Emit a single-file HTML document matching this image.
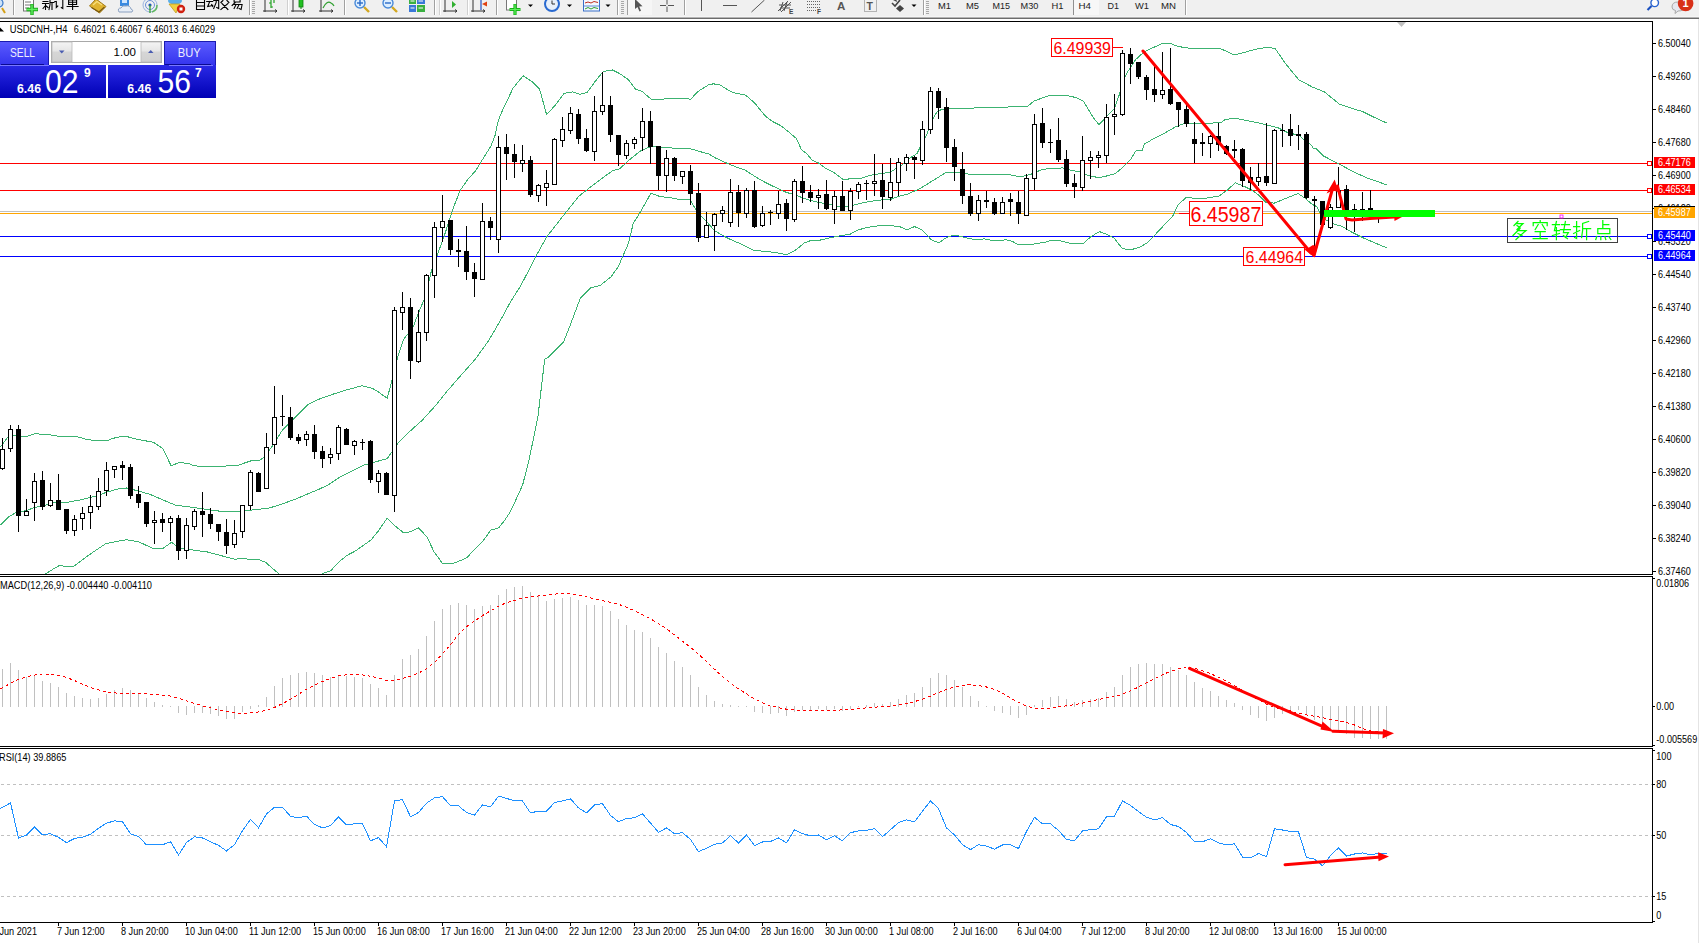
<!DOCTYPE html>
<html><head><meta charset="utf-8"><style>
html,body{margin:0;padding:0;background:#fff;}
body{width:1699px;height:943px;overflow:hidden;position:relative;font-family:"Liberation Sans",sans-serif;}
</style></head><body>
<svg width="1699" height="943" viewBox="0 0 1699 943" style="position:absolute;left:0;top:0">
<rect x="0" y="0" width="1699" height="17" fill="#f0f0f0"/>
<rect x="0" y="16" width="1699" height="1" fill="#f5f5f5"/>
<rect x="0" y="17" width="1699" height="1" fill="#b4b4b4"/>
<rect x="0" y="18" width="1699" height="1" fill="#6c6c6c"/>
<rect x="0" y="19" width="1699" height="2" fill="#ffffff"/>
<rect x="0" y="21" width="1653" height="1" fill="#000"/>
<rect x="1698" y="19" width="1" height="924" fill="#e4e4e4"/>
<polygon points="1397,22 1406,22 1401.5,27" fill="#c0c0c0"/>
<g shape-rendering="crispEdges">
<rect x="13" y="0" width="1" height="15" fill="#a0a0a0"/>
<rect x="14" y="0" width="1" height="15" fill="#ffffff"/>
<rect x="249" y="0" width="1" height="15" fill="#a0a0a0"/>
<rect x="250" y="0" width="1" height="15" fill="#ffffff"/>
<rect x="252" y="1" width="3" height="1" fill="#a8a8a8"/>
<rect x="252" y="3" width="3" height="1" fill="#a8a8a8"/>
<rect x="252" y="5" width="3" height="1" fill="#a8a8a8"/>
<rect x="252" y="7" width="3" height="1" fill="#a8a8a8"/>
<rect x="252" y="9" width="3" height="1" fill="#a8a8a8"/>
<rect x="252" y="11" width="3" height="1" fill="#a8a8a8"/>
<rect x="252" y="13" width="3" height="1" fill="#a8a8a8"/>
<rect x="287" y="0" width="1" height="15" fill="#d0d0d0"/>
<rect x="288" y="0" width="1" height="15" fill="#ffffff"/>
<rect x="344" y="0" width="1" height="15" fill="#a0a0a0"/>
<rect x="345" y="0" width="1" height="15" fill="#ffffff"/>
<rect x="434" y="0" width="1" height="15" fill="#a0a0a0"/>
<rect x="435" y="0" width="1" height="15" fill="#ffffff"/>
<rect x="439" y="0" width="1" height="15" fill="#d0d0d0"/>
<rect x="440" y="0" width="1" height="15" fill="#ffffff"/>
<rect x="467" y="0" width="1" height="15" fill="#d0d0d0"/>
<rect x="468" y="0" width="1" height="15" fill="#ffffff"/>
<rect x="496" y="0" width="1" height="15" fill="#a0a0a0"/>
<rect x="497" y="0" width="1" height="15" fill="#ffffff"/>
<rect x="617" y="0" width="1" height="15" fill="#a0a0a0"/>
<rect x="618" y="0" width="1" height="15" fill="#ffffff"/>
<rect x="621" y="1" width="3" height="1" fill="#a8a8a8"/>
<rect x="621" y="3" width="3" height="1" fill="#a8a8a8"/>
<rect x="621" y="5" width="3" height="1" fill="#a8a8a8"/>
<rect x="621" y="7" width="3" height="1" fill="#a8a8a8"/>
<rect x="621" y="9" width="3" height="1" fill="#a8a8a8"/>
<rect x="621" y="11" width="3" height="1" fill="#a8a8a8"/>
<rect x="621" y="13" width="3" height="1" fill="#a8a8a8"/>
<rect x="627" y="0" width="1" height="15" fill="#a0a0a0"/>
<rect x="628" y="0" width="1" height="15" fill="#ffffff"/>
<rect x="684" y="0" width="1" height="15" fill="#a0a0a0"/>
<rect x="685" y="0" width="1" height="15" fill="#ffffff"/>
<rect x="923" y="0" width="1" height="15" fill="#a0a0a0"/>
<rect x="924" y="0" width="1" height="15" fill="#ffffff"/>
<rect x="926" y="1" width="3" height="1" fill="#a8a8a8"/>
<rect x="926" y="3" width="3" height="1" fill="#a8a8a8"/>
<rect x="926" y="5" width="3" height="1" fill="#a8a8a8"/>
<rect x="926" y="7" width="3" height="1" fill="#a8a8a8"/>
<rect x="926" y="9" width="3" height="1" fill="#a8a8a8"/>
<rect x="926" y="11" width="3" height="1" fill="#a8a8a8"/>
<rect x="926" y="13" width="3" height="1" fill="#a8a8a8"/>
<rect x="1185" y="0" width="1" height="15" fill="#a0a0a0"/>
<rect x="1186" y="0" width="1" height="15" fill="#ffffff"/>
</g>
<circle cx="-1" cy="3" r="4" fill="#cfe3f7" stroke="#3a78c8" stroke-width="1.2"/>
<line x1="2" y1="8" x2="5" y2="13" stroke="#d4a017" stroke-width="2"/>
<rect x="23.5" y="-2" width="10" height="13" fill="#fff" stroke="#777" stroke-width="1"/>
<path d="M25,2 H31 M25,5 H31 M25,8 H29" stroke="#777" stroke-width="1"/>
<path d="M32,4 V15 M26.5,9.5 H38" stroke="#18a818" stroke-width="3.4"/>
<path d="M32,4.5 V14.5 M27,9.5 H37.5" stroke="#60f060" stroke-width="1.4"/>
<path transform="translate(42.0,-2.5) scale(1.0)" d="M1,2 L6,2 M3.5,0 L3.5,2 M1,4 L6,4 M0.5,6 L6.5,6 M3.5,6 L3.5,12 M3.5,8 L1,11 M3.5,8 L6,10 M11.5,0 L8,1.5 L8,7 L7,12 M8,5 L12,5 M10,5 L10,12" fill="none" stroke="#000" stroke-width="1.1" stroke-linecap="square"/>
<path transform="translate(54.3,-2.5) scale(1.0)" d="M1,1 L2,2 M0.5,4 L2,4 L2,10 L3.5,8.5 M5,2 L12,2 M8.5,2 L8.5,11 L7,10" fill="none" stroke="#000" stroke-width="1.1" stroke-linecap="square"/>
<path transform="translate(66.6,-2.5) scale(1.0)" d="M3,0 L4,1.5 M9,0 L8,1.5 M2,2.5 L10,2.5 L10,7 L2,7 Z M2,4.8 L10,4.8 M6,2.5 L6,12 M0.5,9 L11.5,9" fill="none" stroke="#000" stroke-width="1.1" stroke-linecap="square"/>
<path d="M89.5,6 L96,-1 L106,6.5 L99.5,13 Z" fill="#e0b430" stroke="#a07818" stroke-width="1"/>
<path d="M91.5,7.5 L99,12 L104.5,7" fill="none" stroke="#7a5a10" stroke-width="1.2"/>
<path d="M93,5 L97,1.5 L102,5" fill="none" stroke="#f8e080" stroke-width="1.2"/>
<rect x="120" y="-2" width="9" height="8" fill="#3a8ae0"/>
<rect x="122" y="0" width="5" height="3" fill="#cfe6ff"/>
<path d="M119,12 Q117,8 121,8 Q122,5 126,6 Q130,5 131,9 Q134,10 132,12 Z" fill="#e8eef6" stroke="#8aa0c0" stroke-width="1"/>
<circle cx="150" cy="5" r="7" fill="none" stroke="#9ab4e0" stroke-width="1"/>
<circle cx="150" cy="5" r="4.5" fill="none" stroke="#6a90d8" stroke-width="1"/>
<circle cx="150" cy="5" r="1.6" fill="#2050c0"/>
<path d="M150,5 V13" stroke="#30a030" stroke-width="1.3"/>
<path d="M152,12 A7,7 0 0 0 157,5" fill="none" stroke="#60b860" stroke-width="1.5"/>
<ellipse cx="175" cy="1" rx="7" ry="3.5" fill="#5aaee8"/>
<path d="M169,4 L180,4 L176,13 Z" fill="#f0d040" stroke="#c0a020" stroke-width="0.8"/>
<circle cx="181" cy="9" r="4.2" fill="#d02010"/>
<rect x="179.5" y="7.5" width="3" height="3" fill="#fff"/>
<path transform="translate(194.5,-2.5) scale(1.0)" d="M6,-1 L5,1 M2,1.5 L10,1.5 L10,12 L2,12 Z M2,5 L10,5 M2,8.5 L10,8.5" fill="none" stroke="#000" stroke-width="1.1" stroke-linecap="square"/>
<path transform="translate(206.7,-2.5) scale(1.0)" d="M1,1.5 L5,1.5 M0,4 L6,4 M3,4 L1,9 L6,8 M5,7 L6,9 M7,3 L12,3 L12,11 L10,10 M9.5,0 L9.5,5 L7,11" fill="none" stroke="#000" stroke-width="1.1" stroke-linecap="square"/>
<path transform="translate(218.9,-2.5) scale(1.0)" d="M6,-1 L6,1.5 M1,2 L11,2 M4,3 L2,5 M8,3 L10,5 M3,6 L9,12 M9,6 L2,12" fill="none" stroke="#000" stroke-width="1.1" stroke-linecap="square"/>
<path transform="translate(231.1,-2.5) scale(1.0)" d="M3,-1 L9,-1 L9,4.5 L3,4.5 Z M3,2 L9,2 M4,5 L1,8 M2,7 L11,7 L10,12 L8,11 M5,7 L3,11 M8,7 L6,11" fill="none" stroke="#000" stroke-width="1.1" stroke-linecap="square"/>
<path d="M265,0 V12 M263,11 H277" stroke="#333" stroke-width="1" fill="none"/>
<path d="M275,9.5 L277,11 L275,12.5" stroke="#333" stroke-width="1" fill="none"/>
<path d="M271,0 V8 M269,3 H271 M271,7 H273 M274,-1 V3" stroke="#20a020" stroke-width="1.2" fill="none"/>
<path d="M293,0 V12 M291,11 H305" stroke="#333" stroke-width="1" fill="none"/>
<path d="M303,9.5 L305,11 L303,12.5" stroke="#333" stroke-width="1" fill="none"/>
<rect x="299" y="-1" width="4" height="8" fill="#22c022" stroke="#108010" stroke-width="0.8"/><path d="M301,7 V9" stroke="#108010"/>
<path d="M321,0 V12 M319,11 H333" stroke="#333" stroke-width="1" fill="none"/>
<path d="M331,9.5 L333,11 L331,12.5" stroke="#333" stroke-width="1" fill="none"/>
<path d="M323,8 Q327,0 331,3 Q333,4 334,6" stroke="#30a030" stroke-width="1.2" fill="none"/>
<line x1="364" y1="7" x2="369" y2="12" stroke="#d4a820" stroke-width="2.4"/>
<circle cx="360" cy="3" r="5" fill="#dceeff" stroke="#4a8ad8" stroke-width="1.4"/>
<path d="M357,3 H363" stroke="#2a6ac8" stroke-width="1.4"/>
<path d="M360,0 V6" stroke="#2a6ac8" stroke-width="1.4"/>
<line x1="392" y1="7" x2="397" y2="12" stroke="#d4a820" stroke-width="2.4"/>
<circle cx="388" cy="3" r="5" fill="#dceeff" stroke="#4a8ad8" stroke-width="1.4"/>
<path d="M385,3 H391" stroke="#2a6ac8" stroke-width="1.4"/>
<rect x="409" y="-2" width="7" height="6" fill="#3ab040"/><rect x="417" y="-2" width="8" height="6" fill="#3a78d8"/>
<rect x="409" y="5" width="7" height="7" fill="#3a78d8"/><rect x="417" y="5" width="8" height="7" fill="#3ab040"/>
<path d="M410.5,8 H414.5 M418.5,8 H423 M410.5,1 H414.5 M418.5,1 H423" stroke="#fff" stroke-width="1"/>
<path d="M445,0 V12 M443,11 H457" stroke="#333" stroke-width="1" fill="none"/>
<path d="M455,9.5 L457,11 L455,12.5" stroke="#333" stroke-width="1" fill="none"/>
<polygon points="452,1 452,8 456,4.5" fill="#30b030"/>
<path d="M473,0 V12 M471,11 H485" stroke="#333" stroke-width="1" fill="none"/>
<path d="M483,9.5 L485,11 L483,12.5" stroke="#333" stroke-width="1" fill="none"/>
<path d="M481,0 V10" stroke="#2050c0" stroke-width="1.2"/><polygon points="482,4 487,1.5 487,6.5" fill="#e04010"/>
<rect x="506.5" y="-2" width="10" height="12" fill="#fff" stroke="#777" stroke-width="1"/>
<path d="M515,4 V15 M509.5,9.5 H520.5" stroke="#18b418" stroke-width="3.2"/>
<path d="M515,4.5 V14.5 M510,9.5 H520" stroke="#5cf05c" stroke-width="1.2"/>
<polygon points="528.0,4.5 533.0,4.5 530.5,7" fill="#000"/>
<circle cx="552" cy="4" r="7" fill="#e8f0fa" stroke="#2a6ad0" stroke-width="2"/>
<path d="M552,4 V0.5 M552,4 H555" stroke="#333" stroke-width="1"/>
<polygon points="567.0,4.5 572.0,4.5 569.5,7" fill="#000"/>
<rect x="583.5" y="-1" width="16" height="12" fill="#f4f8ff" stroke="#3a70c8" stroke-width="1"/>
<path d="M585,3 L588,2 L591,3 L594,1.5 L598,2.5" stroke="#c03020" stroke-width="1" fill="none"/>
<path d="M584,6 H599" stroke="#3a70c8" stroke-width="0.8"/>
<path d="M585,9 L588,7.5 L591,9 L594,7.5 L598,8.5" stroke="#30a030" stroke-width="1" fill="none"/>
<polygon points="605.5,4.5 610.5,4.5 608,7" fill="#000"/>
<rect x="628" y="0" width="24" height="15" fill="#f6f6f6"/>
<path d="M635,-1 L635,9 L637.5,7 L639.5,11.5 L641,10.8 L639.2,6.5 L642.5,6.2 Z" fill="#555"/>
<path d="M660,5.5 H674 M667,-1 V12" stroke="#555" stroke-width="1"/>
<rect x="666" y="4.5" width="2" height="2" fill="#f0f0f0"/>
<path d="M701.5,0 V11" stroke="#555" stroke-width="1"/>
<path d="M723,5.5 H737" stroke="#555" stroke-width="1"/>
<path d="M751.5,12 L764.5,0" stroke="#555" stroke-width="1"/>
<path d="M778,11 L788,1 M781,12 L791,2 M779,5 H791 M780,8 H790 M783,2 L780,11 M787,2 L784,11" stroke="#555" stroke-width="1" fill="none"/>
<text x="789" y="14" font-family="Liberation Sans, sans-serif" font-size="6.5" font-weight="bold" fill="#444">E</text>
<path d="M807,1.5 H820 M807,4.5 H820 M807,7.5 H820 M807,10.5 H816" stroke="#666" stroke-width="1" stroke-dasharray="1,1"/>
<text x="817" y="14" font-family="Liberation Sans, sans-serif" font-size="6.5" font-weight="bold" fill="#444">F</text>
<text x="837" y="9.5" font-family="Liberation Sans, sans-serif" font-size="11.5" font-weight="bold" fill="#555">A</text>
<rect x="864.5" y="-0.5" width="12" height="12" fill="none" stroke="#777" stroke-width="1" stroke-dasharray="1,1"/>
<text x="866.5" y="9.5" font-family="Liberation Sans, sans-serif" font-size="10.5" font-weight="bold" fill="#555">T</text>
<path d="M892,3 L895,6 L900,0" stroke="#444" stroke-width="1.6" fill="none"/>
<polygon points="900,5 904,8.5 900,12 896,8.5" fill="#444"/>
<polygon points="893,0 896,-2 897,2" fill="#444"/>
<polygon points="911.5,4.5 916.5,4.5 914,7" fill="#000"/>
<rect x="1073" y="0" width="1" height="15" fill="#909090"/>
<rect x="1074" y="0" width="25" height="15" fill="#f7f7f7"/>
<g font-family="Liberation Sans, sans-serif" font-size="9.4" fill="#222">
<text x="938" y="9.2" textLength="13" lengthAdjust="spacingAndGlyphs">M1</text>
<text x="966" y="9.2" textLength="13" lengthAdjust="spacingAndGlyphs">M5</text>
<text x="992.5" y="9.2" textLength="17.5" lengthAdjust="spacingAndGlyphs">M15</text>
<text x="1020.6" y="9.2" textLength="17.8" lengthAdjust="spacingAndGlyphs">M30</text>
<text x="1051.4" y="9.2" textLength="12" lengthAdjust="spacingAndGlyphs">H1</text>
<text x="1078.5" y="9.2" textLength="12.5" lengthAdjust="spacingAndGlyphs">H4</text>
<text x="1107.5" y="9.2" textLength="11.5" lengthAdjust="spacingAndGlyphs">D1</text>
<text x="1135" y="9.2" textLength="14" lengthAdjust="spacingAndGlyphs">W1</text>
<text x="1161" y="9.2" textLength="15" lengthAdjust="spacingAndGlyphs">MN</text>
</g>
<circle cx="1654.7" cy="2.8" r="3.8" fill="#fff" stroke="#2a64d0" stroke-width="1.4"/>
<line x1="1651.5" y1="6" x2="1647.5" y2="10" stroke="#1a50c0" stroke-width="2.2"/>
<path d="M1672,7 Q1672,2 1678,2 Q1684,2 1684,7 Q1684,11 1678,11 L1675,13.5 L1675.5,10.5 Q1672,10 1672,7 Z" fill="#e6e8f0" stroke="#a8a8a8" stroke-width="1"/>
<circle cx="1685.6" cy="3.5" r="7.8" fill="#d83018"/>
<text x="1682.6" y="7" font-family="Liberation Sans, sans-serif" font-size="11" font-weight="bold" fill="#fff">1</text>
<defs><clipPath id="cm"><rect x="0" y="22" width="1652" height="552"/></clipPath><clipPath id="cmacd"><rect x="0" y="577" width="1652" height="169"/></clipPath><clipPath id="crsi"><rect x="0" y="749" width="1652" height="173"/></clipPath></defs>
<g shape-rendering="crispEdges" fill="#000">
<rect x="0" y="574" width="1653" height="1"/>
<rect x="0" y="576" width="1653" height="1"/>
<rect x="0" y="746" width="1653" height="1"/>
<rect x="0" y="748" width="1653" height="1"/>
<rect x="0" y="922" width="1653" height="1"/>
<rect x="1652" y="21" width="1" height="554"/>
<rect x="1652" y="576" width="1" height="171"/>
<rect x="1652" y="748" width="1" height="175"/>
</g>
<g clip-path="url(#cm)">
<g shape-rendering="crispEdges">
<rect x="0" y="163" width="1652" height="1" fill="#ff0000"/>
<rect x="0" y="190" width="1652" height="1" fill="#ff0000"/>
<rect x="0" y="211" width="1652" height="1" fill="#c0c0c0"/>
<rect x="0" y="213" width="1652" height="1" fill="#ffa500"/>
<rect x="0" y="236" width="1652" height="1" fill="#0000ff"/>
<rect x="0" y="256" width="1652" height="1" fill="#0000ff"/>
</g>
<polyline points="0.5,447.0 8.1,436.8 14.1,435.1 20.9,436.8 27.7,436.0 34.5,433.8 46.3,434.3 56.5,436.0 75.2,436.3 85.4,439.0 97.2,441.0 107.4,440.7 112.5,438.5 122.7,436.0 126.5,436.5 137.3,439.3 153.5,442.3 162.5,448.3 171.2,465.8 178.8,462.7 187.8,463.2 194.1,465.8 207.5,466.9 222.1,466.3 238.3,465.1 250.9,460.9 259.1,460.7 264.5,457.0 273.5,444.4 282.5,430.0 295.2,417.4 307.8,404.8 318.6,399.3 331.2,394.8 342.1,391.2 352.9,388.2 361.9,385.8 372.7,388.5 377.1,391.1 387.2,398.3 393.0,376.5 398.3,355.3 403.6,339.4 412.9,327.5 419.5,310.3 424.8,298.3 431.5,270.5 444.2,236.1 452.7,209.6 460.1,190.5 467.5,179.9 476.0,170.3 482.4,159.7 490.9,146.0 495.1,135.3 498.3,120.5 502.5,110.3 513.1,88.1 523.1,75.8 532.2,81.7 539.6,89.1 546.6,114.6 554.5,106.1 564.0,93.4 572.5,91.9 579.9,94.4 587.3,92.3 595.8,80.6 603.2,71.5 612.5,70.0 619.7,73.6 628.2,79.6 635.6,89.1 642.0,91.3 651.1,99.1 662.1,99.1 679.1,98.3 690.8,99.1 698.2,91.3 708.5,84.9 713.4,83.8 720.2,85.1 727.8,89.8 731.2,91.9 738.0,93.7 745.6,95.1 749.9,98.7 755.8,104.2 760.7,110.5 765.8,116.4 772.5,121.5 781.0,125.8 789.5,132.6 796.3,138.5 801.4,149.5 804.5,152.1 807.0,154.0 812.1,160.0 818.5,163.0 826.1,168.7 833.8,172.5 838.9,176.3 843.9,179.9 849.0,178.9 859.2,178.9 866.9,176.3 874.5,174.4 882.1,173.5 891.0,171.9 897.4,167.4 900.5,166.8 908.6,158.7 917.0,153.6 922.1,143.5 927.2,133.3 932.3,119.7 937.4,111.2 942.5,109.2 951.0,108.7 966.2,108.2 996.5,107.5 1020.5,106.5 1027.3,106.5 1034.1,101.0 1040.9,98.5 1051.0,95.1 1061.2,95.1 1071.4,96.3 1078.2,98.5 1083.3,101.0 1088.4,109.5 1093.5,118.0 1098.9,124.5 1105.3,118.0 1110.5,112.7 1113.8,109.5 1115.6,105.1 1118.9,95.9 1120.7,89.8 1124.0,79.0 1127.4,72.2 1135.9,59.3 1144.4,51.6 1152.9,47.7 1162.2,43.6 1170.7,43.6 1178.4,46.5 1191.9,48.7 1220.5,48.7 1234.6,55.0 1247.6,51.5 1258.2,48.7 1264.1,47.9 1271.1,47.9 1275.3,48.7 1282.9,59.9 1290.0,69.3 1298.8,79.7 1312.3,87.0 1324.1,91.7 1339.4,104.1 1347.6,107.0 1362.9,111.7 1373.5,117.0 1386.5,122.9" fill="none" stroke="#3cb371" stroke-width="1" shape-rendering="crispEdges"/>
<polyline points="0.5,525.1 9.0,516.6 16.6,512.3 26.0,510.6 34.5,507.6 44.6,505.5 56.5,502.1 68.4,502.1 82.0,499.6 95.5,496.2 107.4,492.0 119.3,488.6 126.5,488.0 137.3,490.7 149.9,494.3 162.5,499.7 175.2,505.1 189.5,506.9 202.2,508.7 216.5,510.9 234.7,511.9 249.1,510.5 257.3,509.3 268.1,508.4 282.5,503.9 297.0,498.5 309.6,493.1 318.6,489.5 329.5,484.1 340.3,476.9 351.1,471.5 363.7,465.2 372.7,462.5 377.1,461.4 387.2,458.7 398.3,442.8 408.9,432.2 422.2,420.3 435.4,405.7 446.0,392.5 456.4,380.5 475.2,359.3 488.7,340.6 500.4,320.5 509.9,302.9 519.3,288.0 524.5,278.5 536.2,255.8 544.7,240.5 547.0,236.5 566.1,212.1 578.9,196.2 589.5,187.8 602.2,178.2 612.5,170.8 619.7,168.7 630.3,159.1 640.9,150.6 651.1,146.4 668.5,147.9 689.7,148.5 700.3,151.7 708.5,153.8 714.9,157.7 726.7,163.1 736.9,167.3 745.4,170.2 753.9,175.8 762.4,180.9 774.2,186.8 786.1,192.3 796.3,195.3 804.5,198.7 816.0,201.8 824.9,203.7 831.2,204.9 838.9,206.6 847.8,206.9 854.1,204.9 861.8,203.0 871.9,201.1 882.1,199.9 891.0,199.2 900.5,195.7 906.9,194.4 920.4,188.4 934.0,179.9 945.9,172.6 959.5,172.6 967.9,174.0 996.5,174.0 1006.1,174.0 1016.3,176.0 1023.9,176.0 1031.5,174.0 1041.8,169.6 1044.5,169.3 1049.8,168.0 1051.0,168.1 1062.7,168.0 1071.4,170.3 1079.9,172.0 1088.4,175.7 1089.5,175.6 1098.5,177.7 1105.8,176.2 1113.8,174.0 1115.2,173.6 1122.2,168.0 1130.5,159.6 1131.5,158.1 1135.9,150.9 1142.0,150.5 1144.4,144.1 1154.6,138.1 1164.8,133.1 1175.0,127.1 1183.5,123.7 1191.9,123.4 1203.8,123.7 1206.5,123.4 1212.3,123.4 1215.0,122.2 1220.5,122.9 1225.2,119.5 1235.3,118.3 1243.8,120.0 1252.3,121.7 1260.8,123.4 1269.3,125.6 1277.8,127.6 1286.2,131.9 1296.5,134.9 1298.1,134.4 1303.3,139.2 1304.9,138.7 1311.7,145.5 1313.5,148.5 1316.5,148.9 1323.6,156.1 1338.9,163.8 1352.5,171.4 1367.8,178.2 1377.9,181.6 1386.5,185.0" fill="none" stroke="#3cb371" stroke-width="1" shape-rendering="crispEdges"/>
<polyline points="42.5,577.5 45.5,574.0 52.5,569.5 59.0,565.8 73.5,566.6 90.5,553.9 105.7,543.7 122.7,540.3 126.5,539.7 139.1,542.0 153.5,548.7 162.5,548.7 171.5,542.4 180.5,548.7 191.5,549.8 207.5,552.0 222.1,555.9 234.7,559.2 243.7,558.3 250.0,559.6 259.5,559.8 265.9,562.5 272.3,568.3 279.2,574.1 290.5,585.5 310.5,585.5 322.1,573.8 330.5,570.9 340.1,560.9 347.5,555.1 354.9,551.3 362.3,546.1 370.8,540.2 378.2,531.2 387.2,518.0 393.0,524.3 403.6,532.8 410.0,531.8 418.5,527.8 427.0,537.0 433.8,551.4 442.7,563.7 452.1,563.7 458.0,561.6 466.9,557.8 471.1,553.1 483.4,540.4 490.7,530.2 498.7,527.8 504.6,520.4 510.5,511.5 522.7,484.8 529.5,457.7 537.9,417.0 544.7,359.3 548.1,357.5 563.4,342.3 570.2,325.3 580.3,298.2 590.5,288.0 600.4,285.3 610.9,276.9 618.4,266.5 622.8,256.2 628.7,242.8 633.2,223.5 640.6,211.7 651.0,193.1 660.5,196.8 668.5,197.3 679.1,199.4 689.7,199.4 698.2,213.2 708.5,223.8 714.9,231.0 728.5,238.6 740.3,243.7 753.9,250.5 765.8,251.3 775.9,252.7 787.0,254.7 796.3,249.6 804.5,242.8 809.6,241.0 819.8,240.2 830.0,237.7 838.9,236.1 850.3,234.2 856.7,230.4 866.9,227.5 879.6,225.7 892.3,225.7 900.5,227.0 906.9,230.0 914.5,226.6 922.1,230.0 927.2,235.1 931.0,239.6 938.7,242.8 946.3,237.7 951.4,235.8 959.0,236.0 965.4,237.7 975.6,239.8 984.5,238.9 994.7,240.9 1006.1,239.8 1012.5,241.5 1018.9,244.9 1029.0,244.9 1036.7,243.4 1044.5,242.4 1049.8,240.6 1060.3,240.9 1072.0,243.8 1083.1,243.8 1090.7,236.8 1099.4,231.6 1107.0,234.5 1114.0,237.8 1122.2,248.5 1130.3,249.9 1139.7,247.3 1146.7,243.2 1153.7,236.2 1163.0,226.3 1172.3,217.0 1178.2,204.7 1186.9,196.9 1194.5,198.6 1206.5,198.1 1215.5,196.6 1218.4,196.4 1226.9,190.4 1235.3,182.8 1243.8,186.2 1252.3,190.4 1259.1,195.5 1265.9,202.3 1274.4,203.1 1284.5,198.9 1298.1,193.5 1304.9,198.1 1311.7,204.0 1316.5,206.5 1323.6,218.9 1333.8,224.0 1342.3,226.5 1352.5,232.5 1364.4,238.4 1376.2,243.5 1386.5,247.7" fill="none" stroke="#3cb371" stroke-width="1" shape-rendering="crispEdges"/>
<g shape-rendering="crispEdges">
<rect x="2" y="438" width="1" height="32" fill="#000"/>
<rect x="0.5" y="449.5" width="4" height="19" fill="#fff" stroke="#000" stroke-width="1"/>
<rect x="10" y="425" width="1" height="27" fill="#000"/>
<rect x="8.5" y="429.5" width="4" height="19" fill="#fff" stroke="#000" stroke-width="1"/>
<rect x="18" y="425" width="1" height="107" fill="#000"/>
<rect x="16" y="429" width="5" height="87" fill="#000"/>
<rect x="26" y="499" width="1" height="17" fill="#000"/>
<rect x="24.5" y="511.5" width="4" height="4" fill="#fff" stroke="#000" stroke-width="1"/>
<rect x="34" y="473" width="1" height="48" fill="#000"/>
<rect x="32.5" y="481.5" width="4" height="21" fill="#fff" stroke="#000" stroke-width="1"/>
<rect x="42" y="471" width="1" height="39" fill="#000"/>
<rect x="40" y="480" width="5" height="27" fill="#000"/>
<rect x="50" y="483" width="1" height="24" fill="#000"/>
<rect x="48.5" y="500.5" width="4" height="5" fill="#fff" stroke="#000" stroke-width="1"/>
<rect x="58" y="474" width="1" height="36" fill="#000"/>
<rect x="56" y="500" width="5" height="10" fill="#000"/>
<rect x="66" y="509" width="1" height="25" fill="#000"/>
<rect x="64" y="509" width="5" height="22" fill="#000"/>
<rect x="74" y="515" width="1" height="21" fill="#000"/>
<rect x="72.5" y="519.5" width="4" height="11" fill="#fff" stroke="#000" stroke-width="1"/>
<rect x="82" y="507" width="1" height="23" fill="#000"/>
<rect x="80.5" y="513.5" width="4" height="5" fill="#fff" stroke="#000" stroke-width="1"/>
<rect x="90" y="495" width="1" height="34" fill="#000"/>
<rect x="88.5" y="506.5" width="4" height="6" fill="#fff" stroke="#000" stroke-width="1"/>
<rect x="98" y="478" width="1" height="32" fill="#000"/>
<rect x="96.5" y="491.5" width="4" height="15" fill="#fff" stroke="#000" stroke-width="1"/>
<rect x="106" y="462" width="1" height="34" fill="#000"/>
<rect x="104.5" y="470.5" width="4" height="20" fill="#fff" stroke="#000" stroke-width="1"/>
<rect x="114" y="466" width="1" height="12" fill="#000"/>
<rect x="112.5" y="466.5" width="4" height="3" fill="#fff" stroke="#000" stroke-width="1"/>
<rect x="122" y="461" width="1" height="19" fill="#000"/>
<rect x="120" y="465" width="5" height="3" fill="#000"/>
<rect x="130" y="464" width="1" height="35" fill="#000"/>
<rect x="128" y="467" width="5" height="29" fill="#000"/>
<rect x="138" y="486" width="1" height="22" fill="#000"/>
<rect x="136" y="494" width="5" height="9" fill="#000"/>
<rect x="146" y="502" width="1" height="25" fill="#000"/>
<rect x="144" y="502" width="5" height="22" fill="#000"/>
<rect x="154" y="511" width="1" height="33" fill="#000"/>
<rect x="152.5" y="520.5" width="4" height="2" fill="#fff" stroke="#000" stroke-width="1"/>
<rect x="162" y="513" width="1" height="19" fill="#000"/>
<rect x="160" y="519" width="5" height="4" fill="#000"/>
<rect x="170" y="516" width="1" height="25" fill="#000"/>
<rect x="168.5" y="518.5" width="4" height="4" fill="#fff" stroke="#000" stroke-width="1"/>
<rect x="178" y="515" width="1" height="45" fill="#000"/>
<rect x="176" y="518" width="5" height="33" fill="#000"/>
<rect x="186" y="518" width="1" height="41" fill="#000"/>
<rect x="184.5" y="525.5" width="4" height="25" fill="#fff" stroke="#000" stroke-width="1"/>
<rect x="194" y="509" width="1" height="21" fill="#000"/>
<rect x="192.5" y="511.5" width="4" height="15" fill="#fff" stroke="#000" stroke-width="1"/>
<rect x="202" y="492" width="1" height="45" fill="#000"/>
<rect x="200" y="511" width="5" height="4" fill="#000"/>
<rect x="210" y="508" width="1" height="21" fill="#000"/>
<rect x="208" y="514" width="5" height="10" fill="#000"/>
<rect x="218" y="524" width="1" height="17" fill="#000"/>
<rect x="216" y="524" width="5" height="8" fill="#000"/>
<rect x="226" y="519" width="1" height="35" fill="#000"/>
<rect x="224" y="532" width="5" height="14" fill="#000"/>
<rect x="234" y="520" width="1" height="28" fill="#000"/>
<rect x="232.5" y="533.5" width="4" height="11" fill="#fff" stroke="#000" stroke-width="1"/>
<rect x="242" y="505" width="1" height="33" fill="#000"/>
<rect x="240.5" y="505.5" width="4" height="26" fill="#fff" stroke="#000" stroke-width="1"/>
<rect x="250" y="470" width="1" height="40" fill="#000"/>
<rect x="248.5" y="472.5" width="4" height="33" fill="#fff" stroke="#000" stroke-width="1"/>
<rect x="258" y="472" width="1" height="20" fill="#000"/>
<rect x="256" y="473" width="5" height="19" fill="#000"/>
<rect x="266" y="433" width="1" height="56" fill="#000"/>
<rect x="264.5" y="447.5" width="4" height="41" fill="#fff" stroke="#000" stroke-width="1"/>
<rect x="274" y="386" width="1" height="68" fill="#000"/>
<rect x="272.5" y="417.5" width="4" height="27" fill="#fff" stroke="#000" stroke-width="1"/>
<rect x="282" y="395" width="1" height="31" fill="#000"/>
<rect x="280" y="416" width="5" height="1" fill="#000"/>
<rect x="290" y="407" width="1" height="33" fill="#000"/>
<rect x="288" y="417" width="5" height="21" fill="#000"/>
<rect x="298" y="434" width="1" height="10" fill="#000"/>
<rect x="296" y="437" width="5" height="4" fill="#000"/>
<rect x="306" y="431" width="1" height="15" fill="#000"/>
<rect x="304.5" y="434.5" width="4" height="5" fill="#fff" stroke="#000" stroke-width="1"/>
<rect x="314" y="425" width="1" height="34" fill="#000"/>
<rect x="312" y="434" width="5" height="18" fill="#000"/>
<rect x="322" y="446" width="1" height="22" fill="#000"/>
<rect x="320" y="451" width="5" height="8" fill="#000"/>
<rect x="330" y="448" width="1" height="16" fill="#000"/>
<rect x="328.5" y="454.5" width="4" height="3" fill="#fff" stroke="#000" stroke-width="1"/>
<rect x="338" y="425" width="1" height="35" fill="#000"/>
<rect x="336.5" y="427.5" width="4" height="26" fill="#fff" stroke="#000" stroke-width="1"/>
<rect x="346" y="428" width="1" height="17" fill="#000"/>
<rect x="344" y="429" width="5" height="16" fill="#000"/>
<rect x="354" y="440" width="1" height="15" fill="#000"/>
<rect x="352.5" y="441.5" width="4" height="4" fill="#fff" stroke="#000" stroke-width="1"/>
<rect x="362" y="439" width="1" height="11" fill="#000"/>
<rect x="360" y="442" width="5" height="1" fill="#000"/>
<rect x="370" y="440" width="1" height="43" fill="#000"/>
<rect x="368" y="441" width="5" height="39" fill="#000"/>
<rect x="378" y="470" width="1" height="23" fill="#000"/>
<rect x="376.5" y="473.5" width="4" height="8" fill="#fff" stroke="#000" stroke-width="1"/>
<rect x="386" y="472" width="1" height="23" fill="#000"/>
<rect x="384" y="473" width="5" height="22" fill="#000"/>
<rect x="394" y="307" width="1" height="205" fill="#000"/>
<rect x="392.5" y="310.5" width="4" height="185" fill="#fff" stroke="#000" stroke-width="1"/>
<rect x="402" y="292" width="1" height="38" fill="#000"/>
<rect x="400.5" y="307.5" width="4" height="5" fill="#fff" stroke="#000" stroke-width="1"/>
<rect x="410" y="298" width="1" height="81" fill="#000"/>
<rect x="408" y="307" width="5" height="54" fill="#000"/>
<rect x="418" y="310" width="1" height="53" fill="#000"/>
<rect x="416.5" y="332.5" width="4" height="29" fill="#fff" stroke="#000" stroke-width="1"/>
<rect x="426" y="274" width="1" height="67" fill="#000"/>
<rect x="424.5" y="275.5" width="4" height="57" fill="#fff" stroke="#000" stroke-width="1"/>
<rect x="434" y="222" width="1" height="76" fill="#000"/>
<rect x="432.5" y="227.5" width="4" height="48" fill="#fff" stroke="#000" stroke-width="1"/>
<rect x="442" y="195" width="1" height="47" fill="#000"/>
<rect x="440.5" y="221.5" width="4" height="6" fill="#fff" stroke="#000" stroke-width="1"/>
<rect x="450" y="220" width="1" height="35" fill="#000"/>
<rect x="448" y="220" width="5" height="30" fill="#000"/>
<rect x="458" y="239" width="1" height="28" fill="#000"/>
<rect x="456" y="250" width="5" height="2" fill="#000"/>
<rect x="466" y="226" width="1" height="54" fill="#000"/>
<rect x="464" y="251" width="5" height="21" fill="#000"/>
<rect x="474" y="263" width="1" height="34" fill="#000"/>
<rect x="472" y="272" width="5" height="7" fill="#000"/>
<rect x="482" y="203" width="1" height="77" fill="#000"/>
<rect x="480.5" y="221.5" width="4" height="58" fill="#fff" stroke="#000" stroke-width="1"/>
<rect x="490" y="217" width="1" height="23" fill="#000"/>
<rect x="488" y="221" width="5" height="7" fill="#000"/>
<rect x="498" y="136" width="1" height="117" fill="#000"/>
<rect x="496.5" y="147.5" width="4" height="92" fill="#fff" stroke="#000" stroke-width="1"/>
<rect x="506" y="134" width="1" height="46" fill="#000"/>
<rect x="504" y="147" width="5" height="7" fill="#000"/>
<rect x="514" y="144" width="1" height="34" fill="#000"/>
<rect x="512" y="154" width="5" height="8" fill="#000"/>
<rect x="522" y="145" width="1" height="27" fill="#000"/>
<rect x="520.5" y="160.5" width="4" height="3" fill="#fff" stroke="#000" stroke-width="1"/>
<rect x="530" y="156" width="1" height="41" fill="#000"/>
<rect x="528" y="160" width="5" height="35" fill="#000"/>
<rect x="538" y="184" width="1" height="18" fill="#000"/>
<rect x="536.5" y="185.5" width="4" height="10" fill="#fff" stroke="#000" stroke-width="1"/>
<rect x="546" y="170" width="1" height="36" fill="#000"/>
<rect x="544.5" y="183.5" width="4" height="4" fill="#fff" stroke="#000" stroke-width="1"/>
<rect x="554" y="138" width="1" height="47" fill="#000"/>
<rect x="552.5" y="139.5" width="4" height="45" fill="#fff" stroke="#000" stroke-width="1"/>
<rect x="562" y="117" width="1" height="30" fill="#000"/>
<rect x="560.5" y="129.5" width="4" height="11" fill="#fff" stroke="#000" stroke-width="1"/>
<rect x="570" y="107" width="1" height="27" fill="#000"/>
<rect x="568.5" y="113.5" width="4" height="17" fill="#fff" stroke="#000" stroke-width="1"/>
<rect x="578" y="109" width="1" height="35" fill="#000"/>
<rect x="576" y="114" width="5" height="25" fill="#000"/>
<rect x="586" y="129" width="1" height="23" fill="#000"/>
<rect x="584" y="138" width="5" height="13" fill="#000"/>
<rect x="594" y="96" width="1" height="65" fill="#000"/>
<rect x="592.5" y="111.5" width="4" height="40" fill="#fff" stroke="#000" stroke-width="1"/>
<rect x="602" y="72" width="1" height="43" fill="#000"/>
<rect x="600.5" y="105.5" width="4" height="6" fill="#fff" stroke="#000" stroke-width="1"/>
<rect x="610" y="96" width="1" height="46" fill="#000"/>
<rect x="608" y="105" width="5" height="30" fill="#000"/>
<rect x="618" y="135" width="1" height="31" fill="#000"/>
<rect x="616" y="135" width="5" height="20" fill="#000"/>
<rect x="626" y="140" width="1" height="19" fill="#000"/>
<rect x="624.5" y="143.5" width="4" height="12" fill="#fff" stroke="#000" stroke-width="1"/>
<rect x="634" y="137" width="1" height="12" fill="#000"/>
<rect x="632.5" y="139.5" width="4" height="4" fill="#fff" stroke="#000" stroke-width="1"/>
<rect x="642" y="108" width="1" height="43" fill="#000"/>
<rect x="640.5" y="121.5" width="4" height="16" fill="#fff" stroke="#000" stroke-width="1"/>
<rect x="650" y="111" width="1" height="53" fill="#000"/>
<rect x="648" y="121" width="5" height="26" fill="#000"/>
<rect x="658" y="146" width="1" height="44" fill="#000"/>
<rect x="656" y="146" width="5" height="30" fill="#000"/>
<rect x="666" y="150" width="1" height="42" fill="#000"/>
<rect x="664.5" y="158.5" width="4" height="17" fill="#fff" stroke="#000" stroke-width="1"/>
<rect x="674" y="157" width="1" height="24" fill="#000"/>
<rect x="672" y="158" width="5" height="18" fill="#000"/>
<rect x="682" y="171" width="1" height="13" fill="#000"/>
<rect x="680.5" y="171.5" width="4" height="5" fill="#fff" stroke="#000" stroke-width="1"/>
<rect x="690" y="165" width="1" height="40" fill="#000"/>
<rect x="688" y="171" width="5" height="23" fill="#000"/>
<rect x="698" y="183" width="1" height="59" fill="#000"/>
<rect x="696" y="193" width="5" height="45" fill="#000"/>
<rect x="706" y="212" width="1" height="26" fill="#000"/>
<rect x="704.5" y="225.5" width="4" height="12" fill="#fff" stroke="#000" stroke-width="1"/>
<rect x="714" y="213" width="1" height="38" fill="#000"/>
<rect x="712.5" y="214.5" width="4" height="11" fill="#fff" stroke="#000" stroke-width="1"/>
<rect x="722" y="206" width="1" height="16" fill="#000"/>
<rect x="720.5" y="210.5" width="4" height="3" fill="#fff" stroke="#000" stroke-width="1"/>
<rect x="730" y="179" width="1" height="48" fill="#000"/>
<rect x="728.5" y="192.5" width="4" height="30" fill="#fff" stroke="#000" stroke-width="1"/>
<rect x="738" y="185" width="1" height="42" fill="#000"/>
<rect x="736" y="192" width="5" height="21" fill="#000"/>
<rect x="746" y="188" width="1" height="30" fill="#000"/>
<rect x="744.5" y="190.5" width="4" height="23" fill="#fff" stroke="#000" stroke-width="1"/>
<rect x="754" y="181" width="1" height="47" fill="#000"/>
<rect x="752" y="190" width="5" height="37" fill="#000"/>
<rect x="762" y="206" width="1" height="21" fill="#000"/>
<rect x="760.5" y="213.5" width="4" height="12" fill="#fff" stroke="#000" stroke-width="1"/>
<rect x="770" y="210" width="1" height="15" fill="#000"/>
<rect x="768" y="212" width="5" height="1" fill="#000"/>
<rect x="778" y="191" width="1" height="28" fill="#000"/>
<rect x="776.5" y="204.5" width="4" height="9" fill="#fff" stroke="#000" stroke-width="1"/>
<rect x="786" y="199" width="1" height="32" fill="#000"/>
<rect x="784" y="203" width="5" height="16" fill="#000"/>
<rect x="794" y="179" width="1" height="43" fill="#000"/>
<rect x="792.5" y="181.5" width="4" height="38" fill="#fff" stroke="#000" stroke-width="1"/>
<rect x="802" y="166" width="1" height="37" fill="#000"/>
<rect x="800" y="181" width="5" height="12" fill="#000"/>
<rect x="810" y="185" width="1" height="17" fill="#000"/>
<rect x="808" y="192" width="5" height="6" fill="#000"/>
<rect x="818" y="189" width="1" height="20" fill="#000"/>
<rect x="816.5" y="195.5" width="4" height="2" fill="#fff" stroke="#000" stroke-width="1"/>
<rect x="826" y="180" width="1" height="30" fill="#000"/>
<rect x="824" y="194" width="5" height="15" fill="#000"/>
<rect x="834" y="191" width="1" height="33" fill="#000"/>
<rect x="832.5" y="196.5" width="4" height="13" fill="#fff" stroke="#000" stroke-width="1"/>
<rect x="842" y="181" width="1" height="30" fill="#000"/>
<rect x="840" y="196" width="5" height="15" fill="#000"/>
<rect x="850" y="188" width="1" height="32" fill="#000"/>
<rect x="848.5" y="191.5" width="4" height="19" fill="#fff" stroke="#000" stroke-width="1"/>
<rect x="858" y="182" width="1" height="17" fill="#000"/>
<rect x="856.5" y="184.5" width="4" height="7" fill="#fff" stroke="#000" stroke-width="1"/>
<rect x="866" y="180" width="1" height="20" fill="#000"/>
<rect x="864" y="183" width="5" height="1" fill="#000"/>
<rect x="874" y="154" width="1" height="42" fill="#000"/>
<rect x="872.5" y="181.5" width="4" height="2" fill="#fff" stroke="#000" stroke-width="1"/>
<rect x="882" y="164" width="1" height="45" fill="#000"/>
<rect x="880" y="180" width="5" height="17" fill="#000"/>
<rect x="890" y="158" width="1" height="43" fill="#000"/>
<rect x="888.5" y="182.5" width="4" height="15" fill="#fff" stroke="#000" stroke-width="1"/>
<rect x="898" y="158" width="1" height="38" fill="#000"/>
<rect x="896.5" y="162.5" width="4" height="20" fill="#fff" stroke="#000" stroke-width="1"/>
<rect x="906" y="154" width="1" height="17" fill="#000"/>
<rect x="904.5" y="157.5" width="4" height="6" fill="#fff" stroke="#000" stroke-width="1"/>
<rect x="914" y="156" width="1" height="23" fill="#000"/>
<rect x="912" y="157" width="5" height="3" fill="#000"/>
<rect x="922" y="121" width="1" height="44" fill="#000"/>
<rect x="920.5" y="129.5" width="4" height="31" fill="#fff" stroke="#000" stroke-width="1"/>
<rect x="930" y="87" width="1" height="47" fill="#000"/>
<rect x="928.5" y="91.5" width="4" height="38" fill="#fff" stroke="#000" stroke-width="1"/>
<rect x="938" y="88" width="1" height="31" fill="#000"/>
<rect x="936" y="91" width="5" height="17" fill="#000"/>
<rect x="946" y="98" width="1" height="64" fill="#000"/>
<rect x="944" y="107" width="5" height="41" fill="#000"/>
<rect x="954" y="139" width="1" height="42" fill="#000"/>
<rect x="952" y="147" width="5" height="20" fill="#000"/>
<rect x="962" y="152" width="1" height="52" fill="#000"/>
<rect x="960" y="169" width="5" height="27" fill="#000"/>
<rect x="970" y="183" width="1" height="33" fill="#000"/>
<rect x="968" y="196" width="5" height="18" fill="#000"/>
<rect x="978" y="195" width="1" height="26" fill="#000"/>
<rect x="976.5" y="200.5" width="4" height="13" fill="#fff" stroke="#000" stroke-width="1"/>
<rect x="986" y="191" width="1" height="17" fill="#000"/>
<rect x="984" y="200" width="5" height="2" fill="#000"/>
<rect x="994" y="198" width="1" height="17" fill="#000"/>
<rect x="992" y="202" width="5" height="12" fill="#000"/>
<rect x="1002" y="197" width="1" height="17" fill="#000"/>
<rect x="1000.5" y="202.5" width="4" height="11" fill="#fff" stroke="#000" stroke-width="1"/>
<rect x="1010" y="193" width="1" height="23" fill="#000"/>
<rect x="1008" y="199" width="5" height="3" fill="#000"/>
<rect x="1018" y="191" width="1" height="33" fill="#000"/>
<rect x="1016" y="202" width="5" height="12" fill="#000"/>
<rect x="1026" y="174" width="1" height="42" fill="#000"/>
<rect x="1024.5" y="178.5" width="4" height="37" fill="#fff" stroke="#000" stroke-width="1"/>
<rect x="1034" y="114" width="1" height="76" fill="#000"/>
<rect x="1032.5" y="124.5" width="4" height="54" fill="#fff" stroke="#000" stroke-width="1"/>
<rect x="1042" y="108" width="1" height="40" fill="#000"/>
<rect x="1040" y="123" width="5" height="20" fill="#000"/>
<rect x="1050" y="129" width="1" height="24" fill="#000"/>
<rect x="1048" y="142" width="5" height="1" fill="#000"/>
<rect x="1058" y="118" width="1" height="44" fill="#000"/>
<rect x="1056" y="140" width="5" height="20" fill="#000"/>
<rect x="1066" y="150" width="1" height="37" fill="#000"/>
<rect x="1064" y="159" width="5" height="25" fill="#000"/>
<rect x="1074" y="174" width="1" height="24" fill="#000"/>
<rect x="1072" y="183" width="5" height="4" fill="#000"/>
<rect x="1082" y="136" width="1" height="55" fill="#000"/>
<rect x="1080.5" y="160.5" width="4" height="27" fill="#fff" stroke="#000" stroke-width="1"/>
<rect x="1090" y="151" width="1" height="28" fill="#000"/>
<rect x="1088.5" y="157.5" width="4" height="3" fill="#fff" stroke="#000" stroke-width="1"/>
<rect x="1098" y="151" width="1" height="17" fill="#000"/>
<rect x="1096.5" y="155.5" width="4" height="2" fill="#fff" stroke="#000" stroke-width="1"/>
<rect x="1106" y="104" width="1" height="59" fill="#000"/>
<rect x="1104.5" y="117.5" width="4" height="38" fill="#fff" stroke="#000" stroke-width="1"/>
<rect x="1114" y="94" width="1" height="41" fill="#000"/>
<rect x="1112.5" y="114.5" width="4" height="2" fill="#fff" stroke="#000" stroke-width="1"/>
<rect x="1122" y="50" width="1" height="66" fill="#000"/>
<rect x="1120.5" y="53.5" width="4" height="61" fill="#fff" stroke="#000" stroke-width="1"/>
<rect x="1130" y="48" width="1" height="36" fill="#000"/>
<rect x="1128" y="54" width="5" height="10" fill="#000"/>
<rect x="1138" y="62" width="1" height="17" fill="#000"/>
<rect x="1136" y="62" width="5" height="15" fill="#000"/>
<rect x="1146" y="75" width="1" height="25" fill="#000"/>
<rect x="1144" y="77" width="5" height="13" fill="#000"/>
<rect x="1154" y="66" width="1" height="36" fill="#000"/>
<rect x="1152" y="89" width="5" height="6" fill="#000"/>
<rect x="1162" y="52" width="1" height="47" fill="#000"/>
<rect x="1160.5" y="90.5" width="4" height="4" fill="#fff" stroke="#000" stroke-width="1"/>
<rect x="1170" y="48" width="1" height="57" fill="#000"/>
<rect x="1168" y="89" width="5" height="15" fill="#000"/>
<rect x="1178" y="102" width="1" height="25" fill="#000"/>
<rect x="1176" y="102" width="5" height="8" fill="#000"/>
<rect x="1186" y="105" width="1" height="22" fill="#000"/>
<rect x="1184" y="109" width="5" height="15" fill="#000"/>
<rect x="1194" y="122" width="1" height="41" fill="#000"/>
<rect x="1192" y="139" width="5" height="5" fill="#000"/>
<rect x="1202" y="133" width="1" height="23" fill="#000"/>
<rect x="1200" y="142" width="5" height="2" fill="#000"/>
<rect x="1210" y="135" width="1" height="23" fill="#000"/>
<rect x="1208.5" y="136.5" width="4" height="7" fill="#fff" stroke="#000" stroke-width="1"/>
<rect x="1218" y="123" width="1" height="28" fill="#000"/>
<rect x="1216" y="136" width="5" height="9" fill="#000"/>
<rect x="1226" y="145" width="1" height="10" fill="#000"/>
<rect x="1224" y="146" width="5" height="8" fill="#000"/>
<rect x="1234" y="140" width="1" height="18" fill="#000"/>
<rect x="1232" y="149" width="5" height="2" fill="#000"/>
<rect x="1242" y="148" width="1" height="39" fill="#000"/>
<rect x="1240" y="149" width="5" height="32" fill="#000"/>
<rect x="1250" y="167" width="1" height="23" fill="#000"/>
<rect x="1248" y="177" width="5" height="6" fill="#000"/>
<rect x="1258" y="163" width="1" height="23" fill="#000"/>
<rect x="1256.5" y="177.5" width="4" height="4" fill="#fff" stroke="#000" stroke-width="1"/>
<rect x="1266" y="123" width="1" height="63" fill="#000"/>
<rect x="1264" y="176" width="5" height="7" fill="#000"/>
<rect x="1274" y="129" width="1" height="55" fill="#000"/>
<rect x="1272.5" y="130.5" width="4" height="53" fill="#fff" stroke="#000" stroke-width="1"/>
<rect x="1282" y="124" width="1" height="23" fill="#000"/>
<rect x="1280" y="130" width="5" height="1" fill="#000"/>
<rect x="1290" y="114" width="1" height="32" fill="#000"/>
<rect x="1288" y="129" width="5" height="7" fill="#000"/>
<rect x="1298" y="125" width="1" height="25" fill="#000"/>
<rect x="1296" y="134" width="5" height="2" fill="#000"/>
<rect x="1306" y="132" width="1" height="67" fill="#000"/>
<rect x="1304" y="134" width="5" height="64" fill="#000"/>
<rect x="1314" y="196" width="1" height="60" fill="#000"/>
<rect x="1312" y="199" width="5" height="2" fill="#000"/>
<rect x="1322" y="201" width="1" height="26" fill="#000"/>
<rect x="1320" y="201" width="5" height="24" fill="#000"/>
<rect x="1330" y="204" width="1" height="25" fill="#000"/>
<rect x="1328.5" y="207.5" width="4" height="20" fill="#fff" stroke="#000" stroke-width="1"/>
<rect x="1338" y="167" width="1" height="41" fill="#000"/>
<rect x="1336.5" y="190.5" width="4" height="17" fill="#fff" stroke="#000" stroke-width="1"/>
<rect x="1346" y="185" width="1" height="45" fill="#000"/>
<rect x="1344" y="189" width="5" height="21" fill="#000"/>
<rect x="1354" y="204" width="1" height="28" fill="#000"/>
<rect x="1352" y="209" width="5" height="1" fill="#000"/>
<rect x="1362" y="192" width="1" height="29" fill="#000"/>
<rect x="1360" y="209" width="5" height="1" fill="#000"/>
<rect x="1370" y="190" width="1" height="22" fill="#000"/>
<rect x="1368" y="208" width="5" height="2" fill="#000"/>
<rect x="1378" y="211" width="1" height="12" fill="#000"/>
<rect x="1376" y="212" width="5" height="1" fill="#000"/>
</g>
</g>
<g shape-rendering="crispEdges">
<rect x="1647.5" y="161.5" width="4" height="4" fill="#fff" stroke="#ff0000" stroke-width="1"/>
<rect x="1647.5" y="188.5" width="4" height="4" fill="#fff" stroke="#ff0000" stroke-width="1"/>
<rect x="1647.5" y="234.5" width="4" height="4" fill="#fff" stroke="#0000ff" stroke-width="1"/>
<rect x="1647.5" y="254.5" width="4" height="4" fill="#fff" stroke="#0000ff" stroke-width="1"/>
</g>
<g clip-path="url(#cmacd)" shape-rendering="crispEdges">
<rect x="2" y="669" width="1" height="38" fill="#c0c0c0"/>
<rect x="10" y="663" width="1" height="44" fill="#c0c0c0"/>
<rect x="18" y="670" width="1" height="37" fill="#c0c0c0"/>
<rect x="26" y="677" width="1" height="30" fill="#c0c0c0"/>
<rect x="34" y="676" width="1" height="31" fill="#c0c0c0"/>
<rect x="42" y="681" width="1" height="26" fill="#c0c0c0"/>
<rect x="50" y="683" width="1" height="24" fill="#c0c0c0"/>
<rect x="58" y="687" width="1" height="20" fill="#c0c0c0"/>
<rect x="66" y="693" width="1" height="14" fill="#c0c0c0"/>
<rect x="74" y="696" width="1" height="11" fill="#c0c0c0"/>
<rect x="82" y="698" width="1" height="9" fill="#c0c0c0"/>
<rect x="90" y="699" width="1" height="8" fill="#c0c0c0"/>
<rect x="98" y="698" width="1" height="9" fill="#c0c0c0"/>
<rect x="106" y="694" width="1" height="13" fill="#c0c0c0"/>
<rect x="114" y="690" width="1" height="17" fill="#c0c0c0"/>
<rect x="122" y="688" width="1" height="19" fill="#c0c0c0"/>
<rect x="130" y="690" width="1" height="17" fill="#c0c0c0"/>
<rect x="138" y="694" width="1" height="13" fill="#c0c0c0"/>
<rect x="146" y="698" width="1" height="9" fill="#c0c0c0"/>
<rect x="154" y="702" width="1" height="5" fill="#c0c0c0"/>
<rect x="162" y="705" width="1" height="2" fill="#c0c0c0"/>
<rect x="170" y="706" width="1" height="1" fill="#c0c0c0"/>
<rect x="178" y="706" width="1" height="7" fill="#c0c0c0"/>
<rect x="186" y="706" width="1" height="9" fill="#c0c0c0"/>
<rect x="194" y="706" width="1" height="7" fill="#c0c0c0"/>
<rect x="202" y="706" width="1" height="7" fill="#c0c0c0"/>
<rect x="210" y="706" width="1" height="8" fill="#c0c0c0"/>
<rect x="218" y="706" width="1" height="10" fill="#c0c0c0"/>
<rect x="226" y="706" width="1" height="13" fill="#c0c0c0"/>
<rect x="234" y="706" width="1" height="13" fill="#c0c0c0"/>
<rect x="242" y="706" width="1" height="6" fill="#c0c0c0"/>
<rect x="250" y="706" width="1" height="3" fill="#c0c0c0"/>
<rect x="258" y="705" width="1" height="2" fill="#c0c0c0"/>
<rect x="266" y="697" width="1" height="10" fill="#c0c0c0"/>
<rect x="274" y="686" width="1" height="21" fill="#c0c0c0"/>
<rect x="282" y="678" width="1" height="29" fill="#c0c0c0"/>
<rect x="290" y="675" width="1" height="32" fill="#c0c0c0"/>
<rect x="298" y="673" width="1" height="34" fill="#c0c0c0"/>
<rect x="306" y="672" width="1" height="35" fill="#c0c0c0"/>
<rect x="314" y="673" width="1" height="34" fill="#c0c0c0"/>
<rect x="322" y="675" width="1" height="32" fill="#c0c0c0"/>
<rect x="330" y="677" width="1" height="30" fill="#c0c0c0"/>
<rect x="338" y="675" width="1" height="32" fill="#c0c0c0"/>
<rect x="346" y="676" width="1" height="31" fill="#c0c0c0"/>
<rect x="354" y="677" width="1" height="30" fill="#c0c0c0"/>
<rect x="362" y="678" width="1" height="29" fill="#c0c0c0"/>
<rect x="370" y="684" width="1" height="23" fill="#c0c0c0"/>
<rect x="378" y="688" width="1" height="19" fill="#c0c0c0"/>
<rect x="386" y="695" width="1" height="12" fill="#c0c0c0"/>
<rect x="394" y="675" width="1" height="32" fill="#c0c0c0"/>
<rect x="402" y="659" width="1" height="48" fill="#c0c0c0"/>
<rect x="410" y="655" width="1" height="52" fill="#c0c0c0"/>
<rect x="418" y="649" width="1" height="58" fill="#c0c0c0"/>
<rect x="426" y="636" width="1" height="71" fill="#c0c0c0"/>
<rect x="434" y="621" width="1" height="86" fill="#c0c0c0"/>
<rect x="442" y="609" width="1" height="98" fill="#c0c0c0"/>
<rect x="450" y="605" width="1" height="102" fill="#c0c0c0"/>
<rect x="458" y="603" width="1" height="104" fill="#c0c0c0"/>
<rect x="466" y="605" width="1" height="102" fill="#c0c0c0"/>
<rect x="474" y="609" width="1" height="98" fill="#c0c0c0"/>
<rect x="482" y="606" width="1" height="101" fill="#c0c0c0"/>
<rect x="490" y="605" width="1" height="102" fill="#c0c0c0"/>
<rect x="498" y="595" width="1" height="112" fill="#c0c0c0"/>
<rect x="506" y="589" width="1" height="118" fill="#c0c0c0"/>
<rect x="514" y="587" width="1" height="120" fill="#c0c0c0"/>
<rect x="522" y="586" width="1" height="121" fill="#c0c0c0"/>
<rect x="530" y="592" width="1" height="115" fill="#c0c0c0"/>
<rect x="538" y="596" width="1" height="111" fill="#c0c0c0"/>
<rect x="546" y="601" width="1" height="106" fill="#c0c0c0"/>
<rect x="554" y="599" width="1" height="108" fill="#c0c0c0"/>
<rect x="562" y="598" width="1" height="109" fill="#c0c0c0"/>
<rect x="570" y="597" width="1" height="110" fill="#c0c0c0"/>
<rect x="578" y="600" width="1" height="107" fill="#c0c0c0"/>
<rect x="586" y="605" width="1" height="102" fill="#c0c0c0"/>
<rect x="594" y="605" width="1" height="102" fill="#c0c0c0"/>
<rect x="602" y="606" width="1" height="101" fill="#c0c0c0"/>
<rect x="610" y="611" width="1" height="96" fill="#c0c0c0"/>
<rect x="618" y="619" width="1" height="88" fill="#c0c0c0"/>
<rect x="626" y="625" width="1" height="82" fill="#c0c0c0"/>
<rect x="634" y="630" width="1" height="77" fill="#c0c0c0"/>
<rect x="642" y="632" width="1" height="75" fill="#c0c0c0"/>
<rect x="650" y="638" width="1" height="69" fill="#c0c0c0"/>
<rect x="658" y="647" width="1" height="60" fill="#c0c0c0"/>
<rect x="666" y="653" width="1" height="54" fill="#c0c0c0"/>
<rect x="674" y="661" width="1" height="46" fill="#c0c0c0"/>
<rect x="682" y="667" width="1" height="40" fill="#c0c0c0"/>
<rect x="690" y="675" width="1" height="32" fill="#c0c0c0"/>
<rect x="698" y="687" width="1" height="20" fill="#c0c0c0"/>
<rect x="706" y="695" width="1" height="12" fill="#c0c0c0"/>
<rect x="714" y="701" width="1" height="6" fill="#c0c0c0"/>
<rect x="722" y="704" width="1" height="3" fill="#c0c0c0"/>
<rect x="730" y="705" width="1" height="2" fill="#c0c0c0"/>
<rect x="738" y="706" width="1" height="1" fill="#c0c0c0"/>
<rect x="746" y="706" width="1" height="1" fill="#c0c0c0"/>
<rect x="754" y="706" width="1" height="6" fill="#c0c0c0"/>
<rect x="762" y="706" width="1" height="7" fill="#c0c0c0"/>
<rect x="770" y="706" width="1" height="8" fill="#c0c0c0"/>
<rect x="778" y="706" width="1" height="7" fill="#c0c0c0"/>
<rect x="786" y="706" width="1" height="10" fill="#c0c0c0"/>
<rect x="794" y="706" width="1" height="6" fill="#c0c0c0"/>
<rect x="802" y="706" width="1" height="4" fill="#c0c0c0"/>
<rect x="810" y="706" width="1" height="4" fill="#c0c0c0"/>
<rect x="818" y="706" width="1" height="3" fill="#c0c0c0"/>
<rect x="826" y="706" width="1" height="4" fill="#c0c0c0"/>
<rect x="834" y="706" width="1" height="3" fill="#c0c0c0"/>
<rect x="842" y="706" width="1" height="5" fill="#c0c0c0"/>
<rect x="850" y="706" width="1" height="3" fill="#c0c0c0"/>
<rect x="858" y="706" width="1" height="1" fill="#c0c0c0"/>
<rect x="866" y="705" width="1" height="2" fill="#c0c0c0"/>
<rect x="874" y="703" width="1" height="4" fill="#c0c0c0"/>
<rect x="882" y="704" width="1" height="3" fill="#c0c0c0"/>
<rect x="890" y="702" width="1" height="5" fill="#c0c0c0"/>
<rect x="898" y="699" width="1" height="8" fill="#c0c0c0"/>
<rect x="906" y="695" width="1" height="12" fill="#c0c0c0"/>
<rect x="914" y="693" width="1" height="14" fill="#c0c0c0"/>
<rect x="922" y="687" width="1" height="20" fill="#c0c0c0"/>
<rect x="930" y="678" width="1" height="29" fill="#c0c0c0"/>
<rect x="938" y="673" width="1" height="34" fill="#c0c0c0"/>
<rect x="946" y="675" width="1" height="32" fill="#c0c0c0"/>
<rect x="954" y="680" width="1" height="27" fill="#c0c0c0"/>
<rect x="962" y="687" width="1" height="20" fill="#c0c0c0"/>
<rect x="970" y="696" width="1" height="11" fill="#c0c0c0"/>
<rect x="978" y="701" width="1" height="6" fill="#c0c0c0"/>
<rect x="986" y="706" width="1" height="1" fill="#c0c0c0"/>
<rect x="994" y="706" width="1" height="5" fill="#c0c0c0"/>
<rect x="1002" y="706" width="1" height="7" fill="#c0c0c0"/>
<rect x="1010" y="706" width="1" height="9" fill="#c0c0c0"/>
<rect x="1018" y="706" width="1" height="12" fill="#c0c0c0"/>
<rect x="1026" y="706" width="1" height="9" fill="#c0c0c0"/>
<rect x="1034" y="705" width="1" height="2" fill="#c0c0c0"/>
<rect x="1042" y="700" width="1" height="7" fill="#c0c0c0"/>
<rect x="1050" y="697" width="1" height="10" fill="#c0c0c0"/>
<rect x="1058" y="696" width="1" height="11" fill="#c0c0c0"/>
<rect x="1066" y="699" width="1" height="8" fill="#c0c0c0"/>
<rect x="1074" y="702" width="1" height="5" fill="#c0c0c0"/>
<rect x="1082" y="700" width="1" height="7" fill="#c0c0c0"/>
<rect x="1090" y="699" width="1" height="8" fill="#c0c0c0"/>
<rect x="1098" y="698" width="1" height="9" fill="#c0c0c0"/>
<rect x="1106" y="692" width="1" height="15" fill="#c0c0c0"/>
<rect x="1114" y="687" width="1" height="20" fill="#c0c0c0"/>
<rect x="1122" y="675" width="1" height="32" fill="#c0c0c0"/>
<rect x="1130" y="667" width="1" height="40" fill="#c0c0c0"/>
<rect x="1138" y="664" width="1" height="43" fill="#c0c0c0"/>
<rect x="1146" y="663" width="1" height="44" fill="#c0c0c0"/>
<rect x="1154" y="664" width="1" height="43" fill="#c0c0c0"/>
<rect x="1162" y="664" width="1" height="43" fill="#c0c0c0"/>
<rect x="1170" y="667" width="1" height="40" fill="#c0c0c0"/>
<rect x="1178" y="670" width="1" height="37" fill="#c0c0c0"/>
<rect x="1186" y="675" width="1" height="32" fill="#c0c0c0"/>
<rect x="1194" y="682" width="1" height="25" fill="#c0c0c0"/>
<rect x="1202" y="688" width="1" height="19" fill="#c0c0c0"/>
<rect x="1210" y="691" width="1" height="16" fill="#c0c0c0"/>
<rect x="1218" y="696" width="1" height="11" fill="#c0c0c0"/>
<rect x="1226" y="700" width="1" height="7" fill="#c0c0c0"/>
<rect x="1234" y="703" width="1" height="4" fill="#c0c0c0"/>
<rect x="1242" y="706" width="1" height="4" fill="#c0c0c0"/>
<rect x="1250" y="706" width="1" height="9" fill="#c0c0c0"/>
<rect x="1258" y="706" width="1" height="12" fill="#c0c0c0"/>
<rect x="1266" y="706" width="1" height="15" fill="#c0c0c0"/>
<rect x="1274" y="706" width="1" height="12" fill="#c0c0c0"/>
<rect x="1282" y="706" width="1" height="8" fill="#c0c0c0"/>
<rect x="1290" y="706" width="1" height="4" fill="#c0c0c0"/>
<rect x="1298" y="706" width="1" height="4" fill="#c0c0c0"/>
<rect x="1306" y="706" width="1" height="9" fill="#c0c0c0"/>
<rect x="1314" y="706" width="1" height="14" fill="#c0c0c0"/>
<rect x="1322" y="706" width="1" height="18" fill="#c0c0c0"/>
<rect x="1330" y="706" width="1" height="23" fill="#c0c0c0"/>
<rect x="1338" y="706" width="1" height="25" fill="#c0c0c0"/>
<rect x="1346" y="706" width="1" height="28" fill="#c0c0c0"/>
<rect x="1354" y="706" width="1" height="32" fill="#c0c0c0"/>
<rect x="1362" y="706" width="1" height="32" fill="#c0c0c0"/>
<rect x="1370" y="706" width="1" height="33" fill="#c0c0c0"/>
<rect x="1378" y="706" width="1" height="33" fill="#c0c0c0"/>
<rect x="1386" y="706" width="1" height="33" fill="#c0c0c0"/>
</g>
<polyline clip-path="url(#cmacd)" points="0.5,688.8 2.5,687.7 10.5,683.4 18.5,679.3 26.5,676.8 34.5,675.1 42.5,674.0 50.5,674.0 58.5,675.4 66.5,677.5 74.5,680.5 82.5,684.3 90.5,687.6 98.5,689.9 106.5,691.9 114.5,692.9 122.5,693.4 130.5,693.7 138.5,693.8 146.5,694.0 154.5,694.5 162.5,695.1 170.5,696.1 178.5,698.1 186.5,700.7 194.5,703.4 202.5,705.8 210.5,707.9 218.5,709.8 226.5,711.5 234.5,713.0 242.5,713.4 250.5,713.0 258.5,712.0 266.5,710.4 274.5,707.5 282.5,703.6 290.5,699.2 298.5,694.3 306.5,689.2 314.5,685.1 322.5,681.4 330.5,678.4 338.5,675.9 346.5,674.8 354.5,674.7 362.5,675.0 370.5,676.2 378.5,678.0 386.5,680.5 394.5,680.4 402.5,678.4 410.5,676.2 418.5,673.2 426.5,668.6 434.5,662.3 442.5,653.9 450.5,644.7 458.5,634.5 466.5,626.7 474.5,621.1 482.5,615.7 490.5,610.8 498.5,606.3 506.5,602.7 514.5,600.3 522.5,598.2 530.5,596.9 538.5,595.9 546.5,595.0 554.5,594.2 562.5,593.4 570.5,593.7 578.5,594.9 586.5,596.9 594.5,599.0 602.5,600.6 610.5,602.3 618.5,604.3 626.5,607.2 634.5,610.8 642.5,614.6 650.5,618.8 658.5,623.5 666.5,628.8 674.5,634.9 682.5,641.2 690.5,647.4 698.5,654.3 706.5,661.5 714.5,669.2 722.5,676.6 730.5,683.0 738.5,688.9 746.5,693.9 754.5,698.8 762.5,702.8 770.5,705.8 778.5,707.7 786.5,709.2 794.5,709.9 802.5,710.3 810.5,710.6 818.5,710.8 826.5,710.6 834.5,710.2 842.5,709.9 850.5,709.4 858.5,708.5 866.5,707.9 874.5,707.2 882.5,706.6 890.5,706.0 898.5,704.9 906.5,703.5 914.5,701.6 922.5,699.3 930.5,696.2 938.5,692.6 946.5,689.5 954.5,686.8 962.5,685.2 970.5,684.8 978.5,685.5 986.5,687.0 994.5,689.5 1002.5,693.2 1010.5,697.8 1018.5,702.4 1026.5,706.2 1034.5,708.1 1042.5,708.6 1050.5,708.1 1058.5,707.0 1066.5,705.8 1074.5,704.7 1082.5,703.2 1090.5,701.2 1098.5,699.5 1106.5,698.0 1114.5,696.6 1122.5,694.2 1130.5,690.9 1138.5,687.0 1146.5,682.7 1154.5,678.7 1162.5,674.8 1170.5,671.3 1178.5,668.9 1186.5,667.6 1194.5,668.3 1202.5,670.7 1210.5,673.7 1218.5,677.3 1226.5,681.3 1234.5,685.6 1242.5,690.3 1250.5,695.1 1258.5,699.8 1266.5,704.1 1274.5,707.3 1282.5,709.7 1290.5,710.7 1298.5,713.4 1306.5,715.0 1314.5,716.2 1322.5,717.7 1330.5,719.6 1338.5,720.7 1346.5,722.4 1354.5,725.0 1362.5,728.6 1370.5,730.9 1378.5,732.0 1386.5,733.5" fill="none" stroke="#ff0000" stroke-width="1" stroke-dasharray="3,3" shape-rendering="crispEdges"/>
<text transform="translate(0,589) scale(0.925,1)" font-family="Liberation Sans, sans-serif" font-size="10" fill="#000">MACD(12,26,9) -0.004440 -0.004110</text>
<g shape-rendering="crispEdges">
<line x1="1" y1="784.5" x2="1652" y2="784.5" stroke="#c0c0c0" stroke-width="1" stroke-dasharray="3,3"/>
<line x1="1" y1="835.5" x2="1652" y2="835.5" stroke="#c0c0c0" stroke-width="1" stroke-dasharray="3,3"/>
<line x1="1" y1="896.5" x2="1652" y2="896.5" stroke="#c0c0c0" stroke-width="1" stroke-dasharray="3,3"/>
</g>
<polyline clip-path="url(#crsi)" points="0,808.5 2.5,807.5 10.5,802.9 18.5,838.0 26.5,835.2 34.5,826.9 42.5,834.8 50.5,833.7 58.5,837.4 66.5,842.6 74.5,838.5 82.5,837.1 90.5,834.3 98.5,828.2 106.5,823.2 114.5,820.8 122.5,821.9 130.5,833.7 138.5,836.7 146.5,844.8 154.5,844.1 162.5,844.8 170.5,841.7 178.5,855.1 186.5,842.6 194.5,836.7 202.5,838.0 210.5,841.7 218.5,845.4 226.5,850.9 234.5,844.8 242.5,830.6 250.5,819.5 258.5,827.8 266.5,814.0 274.5,807.2 282.5,807.2 290.5,816.4 298.5,817.7 306.5,816.1 314.5,824.4 322.5,827.9 330.5,825.6 338.5,816.8 346.5,824.9 354.5,823.8 362.5,823.8 370.5,840.8 378.5,837.6 386.5,846.8 394.5,800.9 402.5,799.6 410.5,816.8 418.5,812.5 426.5,803.2 434.5,797.9 442.5,796.6 450.5,805.8 458.5,805.8 466.5,812.5 474.5,815.0 482.5,804.9 490.5,806.7 498.5,796.1 506.5,798.4 514.5,800.9 522.5,800.9 530.5,812.9 538.5,811.1 546.5,811.1 554.5,802.6 562.5,800.9 570.5,798.8 578.5,807.9 586.5,812.9 594.5,804.9 602.5,803.7 610.5,815.5 618.5,821.7 626.5,818.5 634.5,817.8 642.5,813.8 650.5,823.1 658.5,832.3 666.5,827.9 674.5,833.7 682.5,832.7 690.5,839.4 698.5,851.7 706.5,848.2 714.5,844.3 722.5,842.9 730.5,835.8 738.5,842.9 746.5,835.0 754.5,845.5 762.5,842.0 770.5,841.5 778.5,838.0 786.5,842.9 794.5,829.7 802.5,833.7 810.5,835.8 818.5,835.0 826.5,839.7 834.5,835.8 842.5,840.8 850.5,832.7 858.5,830.9 866.5,830.2 874.5,828.8 882.5,836.7 890.5,829.7 898.5,822.6 906.5,819.9 914.5,821.7 922.5,811.1 930.5,800.9 938.5,808.5 946.5,827.9 954.5,835.0 962.5,844.7 970.5,849.6 978.5,844.7 986.5,846.1 994.5,849.1 1002.5,845.0 1010.5,844.7 1018.5,848.5 1026.5,831.4 1034.5,817.3 1042.5,823.8 1050.5,823.8 1058.5,830.5 1066.5,839.4 1074.5,840.8 1082.5,830.9 1090.5,829.7 1098.5,828.8 1106.5,816.8 1114.5,816.1 1122.5,800.9 1130.5,805.5 1138.5,811.5 1146.5,817.3 1154.5,819.9 1162.5,817.7 1170.5,824.5 1178.5,826.5 1186.5,832.6 1194.5,841.8 1202.5,841.8 1210.5,838.7 1218.5,842.8 1226.5,844.8 1234.5,843.8 1242.5,857.1 1250.5,857.8 1258.5,853.5 1266.5,856.6 1274.5,828.8 1282.5,830.0 1290.5,831.5 1298.5,831.8 1306.5,857.5 1314.5,859.1 1322.5,865.8 1330.5,855.5 1338.5,847.9 1346.5,856.0 1354.5,854.0 1362.5,852.9 1370.5,854.8 1378.5,853.5 1386.5,854.0" fill="none" stroke="#1e90ff" stroke-width="1" shape-rendering="crispEdges"/>
<text transform="translate(-1,761) scale(0.92,1)" font-family="Liberation Sans, sans-serif" font-size="10" fill="#000">RSI(14) 39.8865</text>
<rect x="1653" y="578" width="2" height="1" fill="#000" shape-rendering="crispEdges"/>
<text transform="translate(1656.3,587) scale(0.91,1)" font-family="Liberation Sans, sans-serif" font-size="10" fill="#000">0.01806</text>
<rect x="1653" y="706" width="2" height="1" fill="#000" shape-rendering="crispEdges"/>
<text transform="translate(1656.3,710) scale(0.91,1)" font-family="Liberation Sans, sans-serif" font-size="10" fill="#000">0.00</text>
<rect x="1653" y="745" width="2" height="1" fill="#000" shape-rendering="crispEdges"/>
<text transform="translate(1656.3,743) scale(0.91,1)" font-family="Liberation Sans, sans-serif" font-size="10" fill="#000">-0.005569</text>
<rect x="1653" y="750" width="2" height="1" fill="#000" shape-rendering="crispEdges"/>
<text transform="translate(1656.3,760) scale(0.91,1)" font-family="Liberation Sans, sans-serif" font-size="10" fill="#000">100</text>
<rect x="1653" y="784" width="2" height="1" fill="#000" shape-rendering="crispEdges"/>
<text transform="translate(1656.3,788) scale(0.91,1)" font-family="Liberation Sans, sans-serif" font-size="10" fill="#000">80</text>
<rect x="1653" y="835" width="2" height="1" fill="#000" shape-rendering="crispEdges"/>
<text transform="translate(1656.3,839) scale(0.91,1)" font-family="Liberation Sans, sans-serif" font-size="10" fill="#000">50</text>
<rect x="1653" y="896" width="2" height="1" fill="#000" shape-rendering="crispEdges"/>
<text transform="translate(1656.3,900) scale(0.91,1)" font-family="Liberation Sans, sans-serif" font-size="10" fill="#000">15</text>
<rect x="1653" y="921" width="2" height="1" fill="#000" shape-rendering="crispEdges"/>
<text transform="translate(1656.3,919) scale(0.91,1)" font-family="Liberation Sans, sans-serif" font-size="10" fill="#000">0</text>
<g clip-path="url(#cm)">
<rect x="1113" y="47" width="10" height="1" fill="#ff0000" shape-rendering="crispEdges"/>
<rect x="1179" y="213" width="10" height="1" fill="#ff0000" shape-rendering="crispEdges"/>
<rect x="1051.5" y="38.5" width="61" height="18" fill="#fff" stroke="#ff0000" stroke-width="1"/>
<text x="1053.4" y="54" font-family="Liberation Sans, sans-serif" font-size="16.5" fill="#ff0000" textLength="57.6" lengthAdjust="spacingAndGlyphs">6.49939</text>
<rect x="1189.5" y="201.5" width="73" height="24" fill="#fff" stroke="#ff0000" stroke-width="1"/>
<text x="1190.5" y="222" font-family="Liberation Sans, sans-serif" font-size="22" fill="#ff0000" textLength="70.8" lengthAdjust="spacingAndGlyphs">6.45987</text>
<rect x="1243.5" y="247.5" width="61" height="18" fill="#fff" stroke="#ff0000" stroke-width="1"/>
<text x="1245.6" y="263" font-family="Liberation Sans, sans-serif" font-size="16.5" fill="#ff0000" textLength="57.4" lengthAdjust="spacingAndGlyphs">6.44964</text>
<g stroke="#ff0000" stroke-width="3.0" fill="none" stroke-linejoin="round" stroke-linecap="round">
<line x1="1143" y1="51" x2="1311" y2="253"/>
<polyline points="1314,255.5 1333,187"/>
<polyline points="1337.5,186 1346,219 1352,220 1370,218.5 1394,217"/>
</g>
<g fill="#ff0000">
<polygon points="1314.5,257.5 1304.5,249.5 1309,247.5 1313,245 1317.5,247"/>
<polygon points="1334.7,179.5 1326.5,193.5 1333,190.5 1338.5,192"/>
<polygon points="1402,217 1394,213.5 1394.5,221"/>
</g>
<rect x="1324" y="210" width="111" height="7" fill="#00ff00" shape-rendering="crispEdges"/>
<rect x="1507.5" y="218.5" width="110" height="24" fill="none" stroke="#404040" stroke-width="1"/>
<rect x="1560" y="215" width="3" height="3" fill="none" stroke="#ff00ff" stroke-width="0.8"/>
</g>
<g clip-path="url(#cm)">
<path transform="translate(1509.0,220.5) scale(1.0)" d="M9,1 L5,5 M7,3 L14,3 L8,9 M8,5 L11,7 M11,8 L4,15 M9,10 L17,10 L7,19 M9,13 L13,15" fill="none" stroke="#00ff00" stroke-width="1.25" stroke-linecap="square"/>
<path transform="translate(1530.2,220.5) scale(1.0)" d="M10,0 L10,2 M3,5 L3,2 L17,2 L17,5 M8,4 L5,9 M12,4 L15,9 M5,11 L15,11 M10,11 L10,18 M3,18 L17,18" fill="none" stroke="#00ff00" stroke-width="1.25" stroke-linecap="square"/>
<path transform="translate(1551.4,220.5) scale(1.0)" d="M1,4 L8,4 M5,1 L3,10 L8,10 M1,15 L8,13 M5,7 L5,19 M10,4 L18,4 M9,9 L19,9 M14,1 L12,12 L17,12 L14,17 M12,15 L16,18" fill="none" stroke="#00ff00" stroke-width="1.25" stroke-linecap="square"/>
<path transform="translate(1572.6,220.5) scale(1.0)" d="M1,6 L7,6 M4,1 L4,18 L2,17 M1,13 L7,10 M16,1 L10,3 L10,10 L9,17 M10,8 L18,8 M14,8 L14,19" fill="none" stroke="#00ff00" stroke-width="1.25" stroke-linecap="square"/>
<path transform="translate(1593.8,220.5) scale(1.0)" d="M9,0 L9,8 M9,4 L15,4 M4,8 L4,13 M4,8 L16,8 L16,13 M4,13 L16,13 M3,16 L2,19 M7,16 L7,19 M11,16 L12,19 M15,16 L17,19" fill="none" stroke="#00ff00" stroke-width="1.25" stroke-linecap="square"/>
</g>
<rect x="1653" y="208" width="3" height="1" fill="#000" shape-rendering="crispEdges"/>
<text transform="translate(1658,212) scale(0.907,1)" font-family="Liberation Sans, sans-serif" font-size="10" fill="#000">6.46120</text>
<rect x="1653" y="43" width="3" height="1" fill="#000" shape-rendering="crispEdges"/>
<text transform="translate(1658,47) scale(0.907,1)" font-family="Liberation Sans, sans-serif" font-size="10" fill="#000">6.50040</text>
<rect x="1653" y="76" width="3" height="1" fill="#000" shape-rendering="crispEdges"/>
<text transform="translate(1658,80) scale(0.907,1)" font-family="Liberation Sans, sans-serif" font-size="10" fill="#000">6.49260</text>
<rect x="1653" y="109" width="3" height="1" fill="#000" shape-rendering="crispEdges"/>
<text transform="translate(1658,113) scale(0.907,1)" font-family="Liberation Sans, sans-serif" font-size="10" fill="#000">6.48460</text>
<rect x="1653" y="142" width="3" height="1" fill="#000" shape-rendering="crispEdges"/>
<text transform="translate(1658,146) scale(0.907,1)" font-family="Liberation Sans, sans-serif" font-size="10" fill="#000">6.47680</text>
<rect x="1653" y="175" width="3" height="1" fill="#000" shape-rendering="crispEdges"/>
<text transform="translate(1658,179) scale(0.907,1)" font-family="Liberation Sans, sans-serif" font-size="10" fill="#000">6.46900</text>
<rect x="1653" y="241" width="3" height="1" fill="#000" shape-rendering="crispEdges"/>
<text transform="translate(1658,245) scale(0.907,1)" font-family="Liberation Sans, sans-serif" font-size="10" fill="#000">6.45320</text>
<rect x="1653" y="274" width="3" height="1" fill="#000" shape-rendering="crispEdges"/>
<text transform="translate(1658,278) scale(0.907,1)" font-family="Liberation Sans, sans-serif" font-size="10" fill="#000">6.44540</text>
<rect x="1653" y="307" width="3" height="1" fill="#000" shape-rendering="crispEdges"/>
<text transform="translate(1658,311) scale(0.907,1)" font-family="Liberation Sans, sans-serif" font-size="10" fill="#000">6.43740</text>
<rect x="1653" y="340" width="3" height="1" fill="#000" shape-rendering="crispEdges"/>
<text transform="translate(1658,344) scale(0.907,1)" font-family="Liberation Sans, sans-serif" font-size="10" fill="#000">6.42960</text>
<rect x="1653" y="373" width="3" height="1" fill="#000" shape-rendering="crispEdges"/>
<text transform="translate(1658,377) scale(0.907,1)" font-family="Liberation Sans, sans-serif" font-size="10" fill="#000">6.42180</text>
<rect x="1653" y="406" width="3" height="1" fill="#000" shape-rendering="crispEdges"/>
<text transform="translate(1658,410) scale(0.907,1)" font-family="Liberation Sans, sans-serif" font-size="10" fill="#000">6.41380</text>
<rect x="1653" y="439" width="3" height="1" fill="#000" shape-rendering="crispEdges"/>
<text transform="translate(1658,443) scale(0.907,1)" font-family="Liberation Sans, sans-serif" font-size="10" fill="#000">6.40600</text>
<rect x="1653" y="472" width="3" height="1" fill="#000" shape-rendering="crispEdges"/>
<text transform="translate(1658,476) scale(0.907,1)" font-family="Liberation Sans, sans-serif" font-size="10" fill="#000">6.39820</text>
<rect x="1653" y="505" width="3" height="1" fill="#000" shape-rendering="crispEdges"/>
<text transform="translate(1658,509) scale(0.907,1)" font-family="Liberation Sans, sans-serif" font-size="10" fill="#000">6.39040</text>
<rect x="1653" y="538" width="3" height="1" fill="#000" shape-rendering="crispEdges"/>
<text transform="translate(1658,542) scale(0.907,1)" font-family="Liberation Sans, sans-serif" font-size="10" fill="#000">6.38240</text>
<rect x="1653" y="571" width="3" height="1" fill="#000" shape-rendering="crispEdges"/>
<text transform="translate(1658,575) scale(0.907,1)" font-family="Liberation Sans, sans-serif" font-size="10" fill="#000">6.37460</text>
<g font-family="Liberation Sans, sans-serif" font-size="9.3">
<rect x="1654" y="206" width="41" height="1" fill="#000" shape-rendering="crispEdges"/>
<rect x="1654" y="157" width="41" height="11" fill="#ff0000" shape-rendering="crispEdges"/>
<text transform="translate(1658,166) scale(0.907,1)" font-family="Liberation Sans, sans-serif" font-size="10" fill="#fff">6.47176</text>
<rect x="1654" y="184" width="41" height="11" fill="#ff0000" shape-rendering="crispEdges"/>
<text transform="translate(1658,193) scale(0.907,1)" font-family="Liberation Sans, sans-serif" font-size="10" fill="#fff">6.46534</text>
<rect x="1654" y="207" width="41" height="11" fill="#ffa500" shape-rendering="crispEdges"/>
<text transform="translate(1658,216) scale(0.907,1)" font-family="Liberation Sans, sans-serif" font-size="10" fill="#fff">6.45987</text>
<rect x="1654" y="230" width="41" height="11" fill="#0000ff" shape-rendering="crispEdges"/>
<text transform="translate(1658,239) scale(0.907,1)" font-family="Liberation Sans, sans-serif" font-size="10" fill="#fff">6.45440</text>
<rect x="1654" y="250" width="41" height="11" fill="#0000ff" shape-rendering="crispEdges"/>
<text transform="translate(1658,259) scale(0.907,1)" font-family="Liberation Sans, sans-serif" font-size="10" fill="#fff">6.44964</text>
</g>
<g stroke="#ff0000" stroke-width="3" fill="none" stroke-linecap="round" stroke-linejoin="round">
<line x1="1189.5" y1="668.3" x2="1327" y2="728.3"/>
<line x1="1333" y1="731.2" x2="1386" y2="733"/>
<line x1="1285" y1="864.7" x2="1381" y2="857"/>
</g>
<g fill="#ff0000">
<polygon points="1334.5,732 1322.5,721.5 1320.5,729.5"/>
<polygon points="1394,733.3 1383,729 1382.5,738.5"/>
<polygon points="1389,856.5 1378,852.3 1378.5,861.3"/>
</g>
<text transform="translate(37,935) scale(0.913,1)" font-family="Liberation Sans, sans-serif" font-size="10" fill="#000" text-anchor="end">4 Jun 2021</text>
<rect x="58" y="923" width="1" height="3" fill="#000" shape-rendering="crispEdges"/>
<text transform="translate(57,935) scale(0.913,1)" font-family="Liberation Sans, sans-serif" font-size="10" fill="#000">7 Jun 12:00</text>
<rect x="122" y="923" width="1" height="3" fill="#000" shape-rendering="crispEdges"/>
<text transform="translate(121,935) scale(0.913,1)" font-family="Liberation Sans, sans-serif" font-size="10" fill="#000">8 Jun 20:00</text>
<rect x="186" y="923" width="1" height="3" fill="#000" shape-rendering="crispEdges"/>
<text transform="translate(185,935) scale(0.913,1)" font-family="Liberation Sans, sans-serif" font-size="10" fill="#000">10 Jun 04:00</text>
<rect x="250" y="923" width="1" height="3" fill="#000" shape-rendering="crispEdges"/>
<text transform="translate(249,935) scale(0.913,1)" font-family="Liberation Sans, sans-serif" font-size="10" fill="#000">11 Jun 12:00</text>
<rect x="314" y="923" width="1" height="3" fill="#000" shape-rendering="crispEdges"/>
<text transform="translate(313,935) scale(0.913,1)" font-family="Liberation Sans, sans-serif" font-size="10" fill="#000">15 Jun 00:00</text>
<rect x="378" y="923" width="1" height="3" fill="#000" shape-rendering="crispEdges"/>
<text transform="translate(377,935) scale(0.913,1)" font-family="Liberation Sans, sans-serif" font-size="10" fill="#000">16 Jun 08:00</text>
<rect x="442" y="923" width="1" height="3" fill="#000" shape-rendering="crispEdges"/>
<text transform="translate(441,935) scale(0.913,1)" font-family="Liberation Sans, sans-serif" font-size="10" fill="#000">17 Jun 16:00</text>
<rect x="506" y="923" width="1" height="3" fill="#000" shape-rendering="crispEdges"/>
<text transform="translate(505,935) scale(0.913,1)" font-family="Liberation Sans, sans-serif" font-size="10" fill="#000">21 Jun 04:00</text>
<rect x="570" y="923" width="1" height="3" fill="#000" shape-rendering="crispEdges"/>
<text transform="translate(569,935) scale(0.913,1)" font-family="Liberation Sans, sans-serif" font-size="10" fill="#000">22 Jun 12:00</text>
<rect x="634" y="923" width="1" height="3" fill="#000" shape-rendering="crispEdges"/>
<text transform="translate(633,935) scale(0.913,1)" font-family="Liberation Sans, sans-serif" font-size="10" fill="#000">23 Jun 20:00</text>
<rect x="698" y="923" width="1" height="3" fill="#000" shape-rendering="crispEdges"/>
<text transform="translate(697,935) scale(0.913,1)" font-family="Liberation Sans, sans-serif" font-size="10" fill="#000">25 Jun 04:00</text>
<rect x="762" y="923" width="1" height="3" fill="#000" shape-rendering="crispEdges"/>
<text transform="translate(761,935) scale(0.913,1)" font-family="Liberation Sans, sans-serif" font-size="10" fill="#000">28 Jun 16:00</text>
<rect x="826" y="923" width="1" height="3" fill="#000" shape-rendering="crispEdges"/>
<text transform="translate(825,935) scale(0.913,1)" font-family="Liberation Sans, sans-serif" font-size="10" fill="#000">30 Jun 00:00</text>
<rect x="890" y="923" width="1" height="3" fill="#000" shape-rendering="crispEdges"/>
<text transform="translate(889,935) scale(0.913,1)" font-family="Liberation Sans, sans-serif" font-size="10" fill="#000">1 Jul 08:00</text>
<rect x="954" y="923" width="1" height="3" fill="#000" shape-rendering="crispEdges"/>
<text transform="translate(953,935) scale(0.913,1)" font-family="Liberation Sans, sans-serif" font-size="10" fill="#000">2 Jul 16:00</text>
<rect x="1018" y="923" width="1" height="3" fill="#000" shape-rendering="crispEdges"/>
<text transform="translate(1017,935) scale(0.913,1)" font-family="Liberation Sans, sans-serif" font-size="10" fill="#000">6 Jul 04:00</text>
<rect x="1082" y="923" width="1" height="3" fill="#000" shape-rendering="crispEdges"/>
<text transform="translate(1081,935) scale(0.913,1)" font-family="Liberation Sans, sans-serif" font-size="10" fill="#000">7 Jul 12:00</text>
<rect x="1146" y="923" width="1" height="3" fill="#000" shape-rendering="crispEdges"/>
<text transform="translate(1145,935) scale(0.913,1)" font-family="Liberation Sans, sans-serif" font-size="10" fill="#000">8 Jul 20:00</text>
<rect x="1210" y="923" width="1" height="3" fill="#000" shape-rendering="crispEdges"/>
<text transform="translate(1209,935) scale(0.913,1)" font-family="Liberation Sans, sans-serif" font-size="10" fill="#000">12 Jul 08:00</text>
<rect x="1274" y="923" width="1" height="3" fill="#000" shape-rendering="crispEdges"/>
<text transform="translate(1273,935) scale(0.913,1)" font-family="Liberation Sans, sans-serif" font-size="10" fill="#000">13 Jul 16:00</text>
<rect x="1338" y="923" width="1" height="3" fill="#000" shape-rendering="crispEdges"/>
<text transform="translate(1337,935) scale(0.913,1)" font-family="Liberation Sans, sans-serif" font-size="10" fill="#000">15 Jul 00:00</text>
<polygon points="0,27.5 4,31.5 0,31.5" fill="#000"/>
<text x="9.7" y="33" font-family="Liberation Sans, sans-serif" font-size="10" fill="#000" textLength="57.9" lengthAdjust="spacingAndGlyphs">USDCNH-,H4</text>
<text x="73.8" y="33" font-family="Liberation Sans, sans-serif" font-size="10" fill="#000" textLength="32.7" lengthAdjust="spacingAndGlyphs">6.46021</text>
<text x="110" y="33" font-family="Liberation Sans, sans-serif" font-size="10" fill="#000" textLength="32.5" lengthAdjust="spacingAndGlyphs">6.46067</text>
<text x="146" y="33" font-family="Liberation Sans, sans-serif" font-size="10" fill="#000" textLength="32.5" lengthAdjust="spacingAndGlyphs">6.46013</text>
<text x="182" y="33" font-family="Liberation Sans, sans-serif" font-size="10" fill="#000" textLength="33" lengthAdjust="spacingAndGlyphs">6.46029</text>
<defs>
<linearGradient id="gbtn" x1="0" y1="0" x2="0" y2="1"><stop offset="0" stop-color="#5c5cff"/><stop offset="1" stop-color="#3434ee"/></linearGradient>
<linearGradient id="gprice" x1="0" y1="0" x2="0" y2="1"><stop offset="0" stop-color="#2a2ae6"/><stop offset="1" stop-color="#0000b4"/></linearGradient>
<linearGradient id="gspin" x1="0" y1="0" x2="0" y2="1"><stop offset="0" stop-color="#f4f4f4"/><stop offset="0.45" stop-color="#e6e6e6"/><stop offset="0.5" stop-color="#d6d6d6"/><stop offset="1" stop-color="#d0d0d0"/></linearGradient>
</defs>
<rect x="0" y="41" width="49" height="24" fill="url(#gbtn)"/>
<rect x="0" y="41" width="49" height="1" fill="#1a1ab0"/>
<rect x="48" y="41" width="1" height="24" fill="#1a1ab0"/>
<rect x="1" y="64" width="43" height="1" fill="#0a0a90"/>
<rect x="164" y="41" width="52" height="24" fill="url(#gbtn)"/>
<rect x="164" y="41" width="52" height="1" fill="#1a1ab0"/>
<rect x="215" y="41" width="1" height="24" fill="#1a1ab0"/>
<rect x="165" y="64" width="46" height="1" fill="#0a0a90"/>
<rect x="164" y="41" width="1" height="24" fill="#1a1ab0"/>
<rect x="0" y="65" width="106" height="33" fill="url(#gprice)"/>
<rect x="108" y="65" width="108" height="33" fill="url(#gprice)"/>
<rect x="0" y="65" width="49" height="1" fill="#7878ff"/>
<rect x="169" y="65" width="44" height="1" fill="#7878ff"/>
<rect x="51.5" y="41.5" width="110" height="21" fill="#fff" stroke="#a8a8a8" stroke-width="1"/>
<rect x="52" y="42" width="20" height="20" fill="url(#gspin)" stroke="#b8b8b8" stroke-width="0.8"/>
<rect x="141" y="42" width="20" height="20" fill="url(#gspin)" stroke="#b8b8b8" stroke-width="0.8"/>
<polygon points="59,50.5 64.5,50.5 61.75,53.5" fill="#4a5cb0"/>
<polygon points="148,53 153.5,53 150.75,50" fill="#4a5cb0"/>
<text x="136" y="55.5" font-family="Liberation Sans, sans-serif" font-size="11.5" fill="#000" text-anchor="end">1.00</text>
<text x="10" y="57" font-family="Liberation Sans, sans-serif" font-size="12" fill="#eeeeff" textLength="25" lengthAdjust="spacingAndGlyphs">SELL</text>
<text x="177.7" y="57" font-family="Liberation Sans, sans-serif" font-size="12" fill="#eeeeff" textLength="23" lengthAdjust="spacingAndGlyphs">BUY</text>
<text x="17" y="93" font-family="Liberation Sans, sans-serif" font-size="12" font-weight="bold" fill="#fff" textLength="24" lengthAdjust="spacingAndGlyphs">6.46</text>
<text x="45" y="93" font-family="Liberation Sans, sans-serif" font-size="33.5" fill="#fff" textLength="33.5" lengthAdjust="spacingAndGlyphs">02</text>
<text x="84" y="77" font-family="Liberation Sans, sans-serif" font-size="12" font-weight="bold" fill="#fff">9</text>
<text x="127.3" y="93" font-family="Liberation Sans, sans-serif" font-size="12" font-weight="bold" fill="#fff" textLength="24" lengthAdjust="spacingAndGlyphs">6.46</text>
<text x="157.5" y="93" font-family="Liberation Sans, sans-serif" font-size="33.5" fill="#fff" textLength="33.5" lengthAdjust="spacingAndGlyphs">56</text>
<text x="195" y="77" font-family="Liberation Sans, sans-serif" font-size="12" font-weight="bold" fill="#fff">7</text>
</svg>
</body></html>
